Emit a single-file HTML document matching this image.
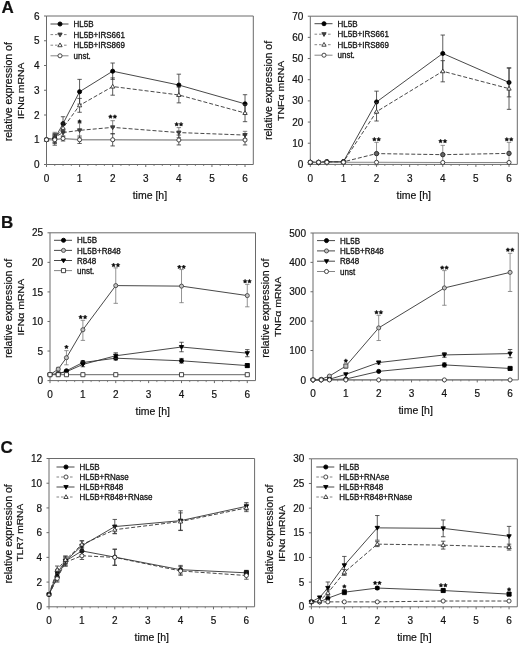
<!DOCTYPE html>
<html><head><meta charset="utf-8"><style>
html,body{margin:0;padding:0;background:#fff;}
body{width:520px;height:649px;overflow:hidden;}
svg{display:block;filter:blur(0.3px);font-family:"Liberation Sans", sans-serif;}
</style></head><body>
<svg width="520" height="649" viewBox="0 0 520 649">
<rect width="520" height="649" fill="#fff"/>
<g fill="#111" stroke-linejoin="round">
<style>text{stroke:#111;stroke-width:0.2px;} text.lg{stroke-width:0.3px;}</style>
<text x="1.4" y="12.6" font-size="17" font-weight="bold">A</text>
<rect x="46.5" y="16" width="206.8" height="148.5" fill="none" stroke="#6a6a6a" stroke-width="1"/>
<line x1="44" y1="164.5" x2="46.5" y2="164.5" stroke="#6a6a6a" stroke-width="1"/>
<text x="39.5" y="168.1" font-size="10" text-anchor="end">0</text>
<line x1="44" y1="139.75" x2="46.5" y2="139.75" stroke="#6a6a6a" stroke-width="1"/>
<text x="39.5" y="143.35" font-size="10" text-anchor="end">1</text>
<line x1="44" y1="115" x2="46.5" y2="115" stroke="#6a6a6a" stroke-width="1"/>
<text x="39.5" y="118.6" font-size="10" text-anchor="end">2</text>
<line x1="44" y1="90.25" x2="46.5" y2="90.25" stroke="#6a6a6a" stroke-width="1"/>
<text x="39.5" y="93.85" font-size="10" text-anchor="end">3</text>
<line x1="44" y1="65.5" x2="46.5" y2="65.5" stroke="#6a6a6a" stroke-width="1"/>
<text x="39.5" y="69.1" font-size="10" text-anchor="end">4</text>
<line x1="44" y1="40.75" x2="46.5" y2="40.75" stroke="#6a6a6a" stroke-width="1"/>
<text x="39.5" y="44.35" font-size="10" text-anchor="end">5</text>
<line x1="44" y1="16" x2="46.5" y2="16" stroke="#6a6a6a" stroke-width="1"/>
<text x="39.5" y="19.6" font-size="10" text-anchor="end">6</text>
<line x1="46.5" y1="164.5" x2="46.5" y2="167" stroke="#6a6a6a" stroke-width="1"/>
<text x="46.5" y="181.9" font-size="10" text-anchor="middle">0</text>
<line x1="54.77" y1="164.5" x2="54.77" y2="166" stroke="#6a6a6a" stroke-width="0.8"/>
<line x1="63.04" y1="164.5" x2="63.04" y2="166" stroke="#6a6a6a" stroke-width="0.8"/>
<line x1="71.32" y1="164.5" x2="71.32" y2="166" stroke="#6a6a6a" stroke-width="0.8"/>
<line x1="79.59" y1="164.5" x2="79.59" y2="167" stroke="#6a6a6a" stroke-width="1"/>
<text x="79.59" y="181.9" font-size="10" text-anchor="middle">1</text>
<line x1="87.86" y1="164.5" x2="87.86" y2="166" stroke="#6a6a6a" stroke-width="0.8"/>
<line x1="96.13" y1="164.5" x2="96.13" y2="166" stroke="#6a6a6a" stroke-width="0.8"/>
<line x1="104.4" y1="164.5" x2="104.4" y2="166" stroke="#6a6a6a" stroke-width="0.8"/>
<line x1="112.68" y1="164.5" x2="112.68" y2="167" stroke="#6a6a6a" stroke-width="1"/>
<text x="112.68" y="181.9" font-size="10" text-anchor="middle">2</text>
<line x1="120.95" y1="164.5" x2="120.95" y2="166" stroke="#6a6a6a" stroke-width="0.8"/>
<line x1="129.22" y1="164.5" x2="129.22" y2="166" stroke="#6a6a6a" stroke-width="0.8"/>
<line x1="137.49" y1="164.5" x2="137.49" y2="166" stroke="#6a6a6a" stroke-width="0.8"/>
<line x1="145.76" y1="164.5" x2="145.76" y2="167" stroke="#6a6a6a" stroke-width="1"/>
<text x="145.76" y="181.9" font-size="10" text-anchor="middle">3</text>
<line x1="154.04" y1="164.5" x2="154.04" y2="166" stroke="#6a6a6a" stroke-width="0.8"/>
<line x1="162.31" y1="164.5" x2="162.31" y2="166" stroke="#6a6a6a" stroke-width="0.8"/>
<line x1="170.58" y1="164.5" x2="170.58" y2="166" stroke="#6a6a6a" stroke-width="0.8"/>
<line x1="178.85" y1="164.5" x2="178.85" y2="167" stroke="#6a6a6a" stroke-width="1"/>
<text x="178.85" y="181.9" font-size="10" text-anchor="middle">4</text>
<line x1="187.12" y1="164.5" x2="187.12" y2="166" stroke="#6a6a6a" stroke-width="0.8"/>
<line x1="195.4" y1="164.5" x2="195.4" y2="166" stroke="#6a6a6a" stroke-width="0.8"/>
<line x1="203.67" y1="164.5" x2="203.67" y2="166" stroke="#6a6a6a" stroke-width="0.8"/>
<line x1="211.94" y1="164.5" x2="211.94" y2="167" stroke="#6a6a6a" stroke-width="1"/>
<text x="211.94" y="181.9" font-size="10" text-anchor="middle">5</text>
<line x1="220.21" y1="164.5" x2="220.21" y2="166" stroke="#6a6a6a" stroke-width="0.8"/>
<line x1="228.48" y1="164.5" x2="228.48" y2="166" stroke="#6a6a6a" stroke-width="0.8"/>
<line x1="236.76" y1="164.5" x2="236.76" y2="166" stroke="#6a6a6a" stroke-width="0.8"/>
<line x1="245.03" y1="164.5" x2="245.03" y2="167" stroke="#6a6a6a" stroke-width="1"/>
<text x="245.03" y="181.9" font-size="10" text-anchor="middle">6</text>
<text x="149.9" y="199" font-size="10.5" text-anchor="middle">time [h]</text>
<text transform="translate(11.5,91.75) rotate(-90)" font-size="10.5" text-anchor="middle">relative expression of</text>
<text transform="translate(23.8,90.75) rotate(-90) scale(1,0.94)" font-size="10.5" text-anchor="middle">IFN&#945; mRNA</text>
<path d="M46.5,139.75L54.77,138.51L63.04,123.66L79.59,91.73L112.68,71.19L178.85,85.05L245.03,103.86" fill="none" stroke="#333" stroke-width="0.9"/>
<path d="M46.5,139.75L54.77,137.28L63.04,132.57L79.59,130.34L112.68,127.38L178.85,132.57L245.03,135.05" fill="none" stroke="#333" stroke-width="0.9" stroke-dasharray="4,2"/>
<path d="M46.5,139.75L54.77,138.51L63.04,127.87L79.59,105.35L112.68,86.54L178.85,94.95L245.03,113.02" fill="none" stroke="#333" stroke-width="0.9" stroke-dasharray="4,2"/>
<path d="M46.5,139.75L54.77,139.75L63.04,138.51L79.59,139.75L112.68,139.75L178.85,140L245.03,140" fill="none" stroke="#9a9a9a" stroke-width="1.5"/>
<line x1="54.77" y1="133.56" x2="54.77" y2="143.46" stroke="#333" stroke-width="0.8"/>
<line x1="52.57" y1="133.56" x2="56.97" y2="133.56" stroke="#333" stroke-width="0.8"/>
<line x1="52.57" y1="143.46" x2="56.97" y2="143.46" stroke="#333" stroke-width="0.8"/>
<line x1="63.04" y1="116.73" x2="63.04" y2="130.59" stroke="#333" stroke-width="0.8"/>
<line x1="60.84" y1="116.73" x2="65.24" y2="116.73" stroke="#333" stroke-width="0.8"/>
<line x1="60.84" y1="130.59" x2="65.24" y2="130.59" stroke="#333" stroke-width="0.8"/>
<line x1="79.59" y1="79.36" x2="79.59" y2="104.11" stroke="#333" stroke-width="0.8"/>
<line x1="77.39" y1="79.36" x2="81.79" y2="79.36" stroke="#333" stroke-width="0.8"/>
<line x1="77.39" y1="104.11" x2="81.79" y2="104.11" stroke="#333" stroke-width="0.8"/>
<line x1="112.68" y1="63.03" x2="112.68" y2="79.36" stroke="#333" stroke-width="0.8"/>
<line x1="110.48" y1="63.03" x2="114.88" y2="63.03" stroke="#333" stroke-width="0.8"/>
<line x1="110.48" y1="79.36" x2="114.88" y2="79.36" stroke="#333" stroke-width="0.8"/>
<line x1="178.85" y1="74.16" x2="178.85" y2="95.94" stroke="#333" stroke-width="0.8"/>
<line x1="176.65" y1="74.16" x2="181.05" y2="74.16" stroke="#333" stroke-width="0.8"/>
<line x1="176.65" y1="95.94" x2="181.05" y2="95.94" stroke="#333" stroke-width="0.8"/>
<line x1="245.03" y1="94.7" x2="245.03" y2="113.02" stroke="#333" stroke-width="0.8"/>
<line x1="242.83" y1="94.7" x2="247.23" y2="94.7" stroke="#333" stroke-width="0.8"/>
<line x1="242.83" y1="113.02" x2="247.23" y2="113.02" stroke="#333" stroke-width="0.8"/>
<circle cx="46.5" cy="139.75" r="2.05" fill="#000" stroke="#000" stroke-width="0.9"/>
<circle cx="54.77" cy="138.51" r="2.05" fill="#000" stroke="#000" stroke-width="0.9"/>
<circle cx="63.04" cy="123.66" r="2.05" fill="#000" stroke="#000" stroke-width="0.9"/>
<circle cx="79.59" cy="91.73" r="2.05" fill="#000" stroke="#000" stroke-width="0.9"/>
<circle cx="112.68" cy="71.19" r="2.05" fill="#000" stroke="#000" stroke-width="0.9"/>
<circle cx="178.85" cy="85.05" r="2.05" fill="#000" stroke="#000" stroke-width="0.9"/>
<circle cx="245.03" cy="103.86" r="2.05" fill="#000" stroke="#000" stroke-width="0.9"/>
<line x1="54.77" y1="132.32" x2="54.77" y2="142.22" stroke="#666" stroke-width="0.8"/>
<line x1="52.57" y1="132.32" x2="56.97" y2="132.32" stroke="#666" stroke-width="0.8"/>
<line x1="52.57" y1="142.22" x2="56.97" y2="142.22" stroke="#666" stroke-width="0.8"/>
<line x1="63.04" y1="128.86" x2="63.04" y2="136.28" stroke="#666" stroke-width="0.8"/>
<line x1="60.84" y1="128.86" x2="65.24" y2="128.86" stroke="#666" stroke-width="0.8"/>
<line x1="60.84" y1="136.28" x2="65.24" y2="136.28" stroke="#666" stroke-width="0.8"/>
<line x1="79.59" y1="122.92" x2="79.59" y2="137.77" stroke="#666" stroke-width="0.8"/>
<line x1="77.39" y1="122.92" x2="81.79" y2="122.92" stroke="#666" stroke-width="0.8"/>
<line x1="77.39" y1="137.77" x2="81.79" y2="137.77" stroke="#666" stroke-width="0.8"/>
<line x1="112.68" y1="120.69" x2="112.68" y2="134.06" stroke="#666" stroke-width="0.8"/>
<line x1="110.48" y1="120.69" x2="114.88" y2="120.69" stroke="#666" stroke-width="0.8"/>
<line x1="110.48" y1="134.06" x2="114.88" y2="134.06" stroke="#666" stroke-width="0.8"/>
<line x1="178.85" y1="127.62" x2="178.85" y2="137.52" stroke="#666" stroke-width="0.8"/>
<line x1="176.65" y1="127.62" x2="181.05" y2="127.62" stroke="#666" stroke-width="0.8"/>
<line x1="176.65" y1="137.52" x2="181.05" y2="137.52" stroke="#666" stroke-width="0.8"/>
<line x1="245.03" y1="131.34" x2="245.03" y2="138.76" stroke="#666" stroke-width="0.8"/>
<line x1="242.83" y1="131.34" x2="247.23" y2="131.34" stroke="#666" stroke-width="0.8"/>
<line x1="242.83" y1="138.76" x2="247.23" y2="138.76" stroke="#666" stroke-width="0.8"/>
<path d="M44.35,138.24L48.65,138.24L46.5,142.01Z" fill="#444" stroke="#333" stroke-width="0.9"/>
<path d="M52.62,135.77L56.92,135.77L54.77,139.54Z" fill="#444" stroke="#333" stroke-width="0.9"/>
<path d="M60.89,131.07L65.2,131.07L63.04,134.83Z" fill="#444" stroke="#333" stroke-width="0.9"/>
<path d="M77.44,128.84L81.74,128.84L79.59,132.61Z" fill="#444" stroke="#333" stroke-width="0.9"/>
<path d="M110.52,125.87L114.83,125.87L112.68,129.64Z" fill="#444" stroke="#333" stroke-width="0.9"/>
<path d="M176.7,131.07L181,131.07L178.85,134.83Z" fill="#444" stroke="#333" stroke-width="0.9"/>
<path d="M242.88,133.54L247.18,133.54L245.03,137.31Z" fill="#444" stroke="#333" stroke-width="0.9"/>
<line x1="54.77" y1="134.8" x2="54.77" y2="142.22" stroke="#333" stroke-width="0.8"/>
<line x1="52.57" y1="134.8" x2="56.97" y2="134.8" stroke="#333" stroke-width="0.8"/>
<line x1="52.57" y1="142.22" x2="56.97" y2="142.22" stroke="#333" stroke-width="0.8"/>
<line x1="63.04" y1="122.92" x2="63.04" y2="132.82" stroke="#333" stroke-width="0.8"/>
<line x1="60.84" y1="122.92" x2="65.24" y2="122.92" stroke="#333" stroke-width="0.8"/>
<line x1="60.84" y1="132.82" x2="65.24" y2="132.82" stroke="#333" stroke-width="0.8"/>
<line x1="79.59" y1="98.42" x2="79.59" y2="112.28" stroke="#333" stroke-width="0.8"/>
<line x1="77.39" y1="98.42" x2="81.79" y2="98.42" stroke="#333" stroke-width="0.8"/>
<line x1="77.39" y1="112.28" x2="81.79" y2="112.28" stroke="#333" stroke-width="0.8"/>
<line x1="112.68" y1="77.88" x2="112.68" y2="95.2" stroke="#333" stroke-width="0.8"/>
<line x1="110.48" y1="77.88" x2="114.88" y2="77.88" stroke="#333" stroke-width="0.8"/>
<line x1="110.48" y1="95.2" x2="114.88" y2="95.2" stroke="#333" stroke-width="0.8"/>
<line x1="178.85" y1="87.03" x2="178.85" y2="102.87" stroke="#333" stroke-width="0.8"/>
<line x1="176.65" y1="87.03" x2="181.05" y2="87.03" stroke="#333" stroke-width="0.8"/>
<line x1="176.65" y1="102.87" x2="181.05" y2="102.87" stroke="#333" stroke-width="0.8"/>
<line x1="245.03" y1="104.36" x2="245.03" y2="121.68" stroke="#333" stroke-width="0.8"/>
<line x1="242.83" y1="104.36" x2="247.23" y2="104.36" stroke="#333" stroke-width="0.8"/>
<line x1="242.83" y1="121.68" x2="247.23" y2="121.68" stroke="#333" stroke-width="0.8"/>
<path d="M44.35,141.26L48.65,141.26L46.5,137.49Z" fill="#fff" stroke="#333" stroke-width="0.9"/>
<path d="M52.62,140.02L56.92,140.02L54.77,136.25Z" fill="#fff" stroke="#333" stroke-width="0.9"/>
<path d="M60.89,129.38L65.2,129.38L63.04,125.61Z" fill="#fff" stroke="#333" stroke-width="0.9"/>
<path d="M77.44,106.85L81.74,106.85L79.59,103.09Z" fill="#fff" stroke="#333" stroke-width="0.9"/>
<path d="M110.52,88.04L114.83,88.04L112.68,84.28Z" fill="#fff" stroke="#333" stroke-width="0.9"/>
<path d="M176.7,96.46L181,96.46L178.85,92.69Z" fill="#fff" stroke="#333" stroke-width="0.9"/>
<path d="M242.88,114.53L247.18,114.53L245.03,110.76Z" fill="#fff" stroke="#333" stroke-width="0.9"/>
<line x1="54.77" y1="134.31" x2="54.77" y2="145.19" stroke="#333" stroke-width="0.8"/>
<line x1="52.57" y1="134.31" x2="56.97" y2="134.31" stroke="#333" stroke-width="0.8"/>
<line x1="52.57" y1="145.19" x2="56.97" y2="145.19" stroke="#333" stroke-width="0.8"/>
<line x1="63.04" y1="136.04" x2="63.04" y2="140.99" stroke="#333" stroke-width="0.8"/>
<line x1="60.84" y1="136.04" x2="65.24" y2="136.04" stroke="#333" stroke-width="0.8"/>
<line x1="60.84" y1="140.99" x2="65.24" y2="140.99" stroke="#333" stroke-width="0.8"/>
<line x1="79.59" y1="136.04" x2="79.59" y2="143.46" stroke="#333" stroke-width="0.8"/>
<line x1="77.39" y1="136.04" x2="81.79" y2="136.04" stroke="#333" stroke-width="0.8"/>
<line x1="77.39" y1="143.46" x2="81.79" y2="143.46" stroke="#333" stroke-width="0.8"/>
<line x1="112.68" y1="133.56" x2="112.68" y2="145.94" stroke="#333" stroke-width="0.8"/>
<line x1="110.48" y1="133.56" x2="114.88" y2="133.56" stroke="#333" stroke-width="0.8"/>
<line x1="110.48" y1="145.94" x2="114.88" y2="145.94" stroke="#333" stroke-width="0.8"/>
<line x1="178.85" y1="135.05" x2="178.85" y2="144.95" stroke="#333" stroke-width="0.8"/>
<line x1="176.65" y1="135.05" x2="181.05" y2="135.05" stroke="#333" stroke-width="0.8"/>
<line x1="176.65" y1="144.95" x2="181.05" y2="144.95" stroke="#333" stroke-width="0.8"/>
<line x1="245.03" y1="135.05" x2="245.03" y2="144.95" stroke="#333" stroke-width="0.8"/>
<line x1="242.83" y1="135.05" x2="247.23" y2="135.05" stroke="#333" stroke-width="0.8"/>
<line x1="242.83" y1="144.95" x2="247.23" y2="144.95" stroke="#333" stroke-width="0.8"/>
<circle cx="46.5" cy="139.75" r="2.05" fill="#fff" stroke="#333" stroke-width="0.9"/>
<circle cx="54.77" cy="139.75" r="2.05" fill="#fff" stroke="#333" stroke-width="0.9"/>
<circle cx="63.04" cy="138.51" r="2.05" fill="#fff" stroke="#333" stroke-width="0.9"/>
<circle cx="79.59" cy="139.75" r="2.05" fill="#fff" stroke="#333" stroke-width="0.9"/>
<circle cx="112.68" cy="139.75" r="2.05" fill="#fff" stroke="#333" stroke-width="0.9"/>
<circle cx="178.85" cy="140" r="2.05" fill="#fff" stroke="#333" stroke-width="0.9"/>
<circle cx="245.03" cy="140" r="2.05" fill="#fff" stroke="#333" stroke-width="0.9"/>
<path d="M79.59,119.5L80.23,120.61L81.49,120.88L80.63,121.84L80.76,123.12L79.59,122.6L78.41,123.12L78.54,121.84L77.69,120.88L78.94,120.61Z" fill="#111" stroke="#111" stroke-width="0.5"/>
<path d="M110.48,114.7L111.12,115.81L112.38,116.08L111.52,117.04L111.65,118.32L110.48,117.8L109.3,118.32L109.43,117.04L108.57,116.08L109.83,115.81Z" fill="#111" stroke="#111" stroke-width="0.5"/>
<path d="M114.88,114.7L115.52,115.81L116.78,116.08L115.92,117.04L116.05,118.32L114.88,117.8L113.7,118.32L113.83,117.04L112.97,116.08L114.23,115.81Z" fill="#111" stroke="#111" stroke-width="0.5"/>
<path d="M176.65,122.3L177.3,123.41L178.55,123.68L177.7,124.64L177.83,125.92L176.65,125.4L175.48,125.92L175.61,124.64L174.75,123.68L176.01,123.41Z" fill="#111" stroke="#111" stroke-width="0.5"/>
<path d="M181.05,122.3L181.7,123.41L182.95,123.68L182.1,124.64L182.23,125.92L181.05,125.4L179.88,125.92L180.01,124.64L179.15,123.68L180.41,123.41Z" fill="#111" stroke="#111" stroke-width="0.5"/>
<line x1="50.5" y1="24" x2="68.5" y2="24" stroke="#333" stroke-width="0.9"/>
<circle cx="60" cy="24" r="2.05" fill="#000" stroke="#000" stroke-width="0.9"/>
<text x="73.5" y="27.1" class="lg" font-size="8.8" textLength="20.01" lengthAdjust="spacingAndGlyphs">HL5B</text>
<line x1="50.5" y1="34.6" x2="68.5" y2="34.6" stroke="#777" stroke-width="0.9" stroke-dasharray="2.6,1.9"/>
<path d="M57.85,33.09L62.15,33.09L60,36.86Z" fill="#444" stroke="#333" stroke-width="0.9"/>
<text x="73.5" y="37.7" class="lg" font-size="8.8" textLength="51.37" lengthAdjust="spacingAndGlyphs">HL5B+IRS661</text>
<line x1="50.5" y1="45.2" x2="68.5" y2="45.2" stroke="#777" stroke-width="0.9" stroke-dasharray="2.6,1.9"/>
<path d="M57.85,46.71L62.15,46.71L60,42.94Z" fill="#fff" stroke="#333" stroke-width="0.9"/>
<text x="73.5" y="48.3" class="lg" font-size="8.8" textLength="51.37" lengthAdjust="spacingAndGlyphs">HL5B+IRS869</text>
<line x1="50.5" y1="55.8" x2="68.5" y2="55.8" stroke="#777" stroke-width="0.9"/>
<circle cx="60" cy="55.8" r="2.05" fill="#fff" stroke="#333" stroke-width="0.9"/>
<text x="73.5" y="58.9" class="lg" font-size="8.8" textLength="17.34" lengthAdjust="spacingAndGlyphs">unst.</text>
<rect x="310.3" y="16.2" width="207" height="148.2" fill="none" stroke="#6a6a6a" stroke-width="1"/>
<line x1="307.8" y1="164.4" x2="310.3" y2="164.4" stroke="#6a6a6a" stroke-width="1"/>
<text x="303.3" y="168" font-size="10" text-anchor="end">0</text>
<line x1="307.8" y1="143.23" x2="310.3" y2="143.23" stroke="#6a6a6a" stroke-width="1"/>
<text x="303.3" y="146.83" font-size="10" text-anchor="end">10</text>
<line x1="307.8" y1="122.06" x2="310.3" y2="122.06" stroke="#6a6a6a" stroke-width="1"/>
<text x="303.3" y="125.66" font-size="10" text-anchor="end">20</text>
<line x1="307.8" y1="100.89" x2="310.3" y2="100.89" stroke="#6a6a6a" stroke-width="1"/>
<text x="303.3" y="104.49" font-size="10" text-anchor="end">30</text>
<line x1="307.8" y1="79.71" x2="310.3" y2="79.71" stroke="#6a6a6a" stroke-width="1"/>
<text x="303.3" y="83.31" font-size="10" text-anchor="end">40</text>
<line x1="307.8" y1="58.54" x2="310.3" y2="58.54" stroke="#6a6a6a" stroke-width="1"/>
<text x="303.3" y="62.14" font-size="10" text-anchor="end">50</text>
<line x1="307.8" y1="37.37" x2="310.3" y2="37.37" stroke="#6a6a6a" stroke-width="1"/>
<text x="303.3" y="40.97" font-size="10" text-anchor="end">60</text>
<line x1="307.8" y1="16.2" x2="310.3" y2="16.2" stroke="#6a6a6a" stroke-width="1"/>
<text x="303.3" y="19.8" font-size="10" text-anchor="end">70</text>
<line x1="310.3" y1="164.4" x2="310.3" y2="166.9" stroke="#6a6a6a" stroke-width="1"/>
<text x="310.3" y="181.8" font-size="10" text-anchor="middle">0</text>
<line x1="318.58" y1="164.4" x2="318.58" y2="165.9" stroke="#6a6a6a" stroke-width="0.8"/>
<line x1="326.86" y1="164.4" x2="326.86" y2="165.9" stroke="#6a6a6a" stroke-width="0.8"/>
<line x1="335.14" y1="164.4" x2="335.14" y2="165.9" stroke="#6a6a6a" stroke-width="0.8"/>
<line x1="343.42" y1="164.4" x2="343.42" y2="166.9" stroke="#6a6a6a" stroke-width="1"/>
<text x="343.42" y="181.8" font-size="10" text-anchor="middle">1</text>
<line x1="351.7" y1="164.4" x2="351.7" y2="165.9" stroke="#6a6a6a" stroke-width="0.8"/>
<line x1="359.98" y1="164.4" x2="359.98" y2="165.9" stroke="#6a6a6a" stroke-width="0.8"/>
<line x1="368.26" y1="164.4" x2="368.26" y2="165.9" stroke="#6a6a6a" stroke-width="0.8"/>
<line x1="376.54" y1="164.4" x2="376.54" y2="166.9" stroke="#6a6a6a" stroke-width="1"/>
<text x="376.54" y="181.8" font-size="10" text-anchor="middle">2</text>
<line x1="384.82" y1="164.4" x2="384.82" y2="165.9" stroke="#6a6a6a" stroke-width="0.8"/>
<line x1="393.1" y1="164.4" x2="393.1" y2="165.9" stroke="#6a6a6a" stroke-width="0.8"/>
<line x1="401.38" y1="164.4" x2="401.38" y2="165.9" stroke="#6a6a6a" stroke-width="0.8"/>
<line x1="409.66" y1="164.4" x2="409.66" y2="166.9" stroke="#6a6a6a" stroke-width="1"/>
<text x="409.66" y="181.8" font-size="10" text-anchor="middle">3</text>
<line x1="417.94" y1="164.4" x2="417.94" y2="165.9" stroke="#6a6a6a" stroke-width="0.8"/>
<line x1="426.22" y1="164.4" x2="426.22" y2="165.9" stroke="#6a6a6a" stroke-width="0.8"/>
<line x1="434.5" y1="164.4" x2="434.5" y2="165.9" stroke="#6a6a6a" stroke-width="0.8"/>
<line x1="442.78" y1="164.4" x2="442.78" y2="166.9" stroke="#6a6a6a" stroke-width="1"/>
<text x="442.78" y="181.8" font-size="10" text-anchor="middle">4</text>
<line x1="451.06" y1="164.4" x2="451.06" y2="165.9" stroke="#6a6a6a" stroke-width="0.8"/>
<line x1="459.34" y1="164.4" x2="459.34" y2="165.9" stroke="#6a6a6a" stroke-width="0.8"/>
<line x1="467.62" y1="164.4" x2="467.62" y2="165.9" stroke="#6a6a6a" stroke-width="0.8"/>
<line x1="475.9" y1="164.4" x2="475.9" y2="166.9" stroke="#6a6a6a" stroke-width="1"/>
<text x="475.9" y="181.8" font-size="10" text-anchor="middle">5</text>
<line x1="484.18" y1="164.4" x2="484.18" y2="165.9" stroke="#6a6a6a" stroke-width="0.8"/>
<line x1="492.46" y1="164.4" x2="492.46" y2="165.9" stroke="#6a6a6a" stroke-width="0.8"/>
<line x1="500.74" y1="164.4" x2="500.74" y2="165.9" stroke="#6a6a6a" stroke-width="0.8"/>
<line x1="509.02" y1="164.4" x2="509.02" y2="166.9" stroke="#6a6a6a" stroke-width="1"/>
<text x="509.02" y="181.8" font-size="10" text-anchor="middle">6</text>
<text x="413.8" y="198.9" font-size="10.5" text-anchor="middle">time [h]</text>
<text transform="translate(271.6,90.5) rotate(-90)" font-size="10.5" text-anchor="middle">relative expression of</text>
<text transform="translate(284.2,90.8) rotate(-90) scale(1,0.94)" font-size="10.5" text-anchor="middle">TNF&#945; mRNA</text>
<path d="M310.3,162.28L318.58,162.28L326.86,161.65L343.42,161.65L376.54,101.94L442.78,53.46L509.02,82.47" fill="none" stroke="#333" stroke-width="0.9"/>
<path d="M310.3,162.28L318.58,162.28L326.86,161.86L343.42,161.86L376.54,153.6L442.78,154.66L509.02,153.39" fill="none" stroke="#333" stroke-width="0.9" stroke-dasharray="4,2"/>
<path d="M310.3,162.28L318.58,162.28L326.86,161.86L343.42,161.86L376.54,111.68L442.78,71.25L509.02,88.61" fill="none" stroke="#333" stroke-width="0.9" stroke-dasharray="4,2"/>
<path d="M310.3,162.28L318.58,162.28L326.86,162.28L343.42,162.28L376.54,162.28L442.78,162.49L509.02,162.49" fill="none" stroke="#777" stroke-width="0.9"/>
<line x1="376.54" y1="91.15" x2="376.54" y2="112.74" stroke="#333" stroke-width="0.8"/>
<line x1="374.34" y1="91.15" x2="378.74" y2="91.15" stroke="#333" stroke-width="0.8"/>
<line x1="374.34" y1="112.74" x2="378.74" y2="112.74" stroke="#333" stroke-width="0.8"/>
<line x1="442.78" y1="35.04" x2="442.78" y2="71.88" stroke="#333" stroke-width="0.8"/>
<line x1="440.58" y1="35.04" x2="444.98" y2="35.04" stroke="#333" stroke-width="0.8"/>
<line x1="440.58" y1="71.88" x2="444.98" y2="71.88" stroke="#333" stroke-width="0.8"/>
<line x1="509.02" y1="68.07" x2="509.02" y2="96.86" stroke="#333" stroke-width="0.8"/>
<line x1="506.82" y1="68.07" x2="511.22" y2="68.07" stroke="#333" stroke-width="0.8"/>
<line x1="506.82" y1="96.86" x2="511.22" y2="96.86" stroke="#333" stroke-width="0.8"/>
<circle cx="310.3" cy="162.28" r="2.05" fill="#000" stroke="#000" stroke-width="0.9"/>
<circle cx="318.58" cy="162.28" r="2.05" fill="#000" stroke="#000" stroke-width="0.9"/>
<circle cx="326.86" cy="161.65" r="2.05" fill="#000" stroke="#000" stroke-width="0.9"/>
<circle cx="343.42" cy="161.65" r="2.05" fill="#000" stroke="#000" stroke-width="0.9"/>
<circle cx="376.54" cy="101.94" r="2.05" fill="#000" stroke="#000" stroke-width="0.9"/>
<circle cx="442.78" cy="53.46" r="2.05" fill="#000" stroke="#000" stroke-width="0.9"/>
<circle cx="509.02" cy="82.47" r="2.05" fill="#000" stroke="#000" stroke-width="0.9"/>
<line x1="376.54" y1="142.38" x2="376.54" y2="164.82" stroke="#777" stroke-width="0.8"/>
<line x1="374.34" y1="142.38" x2="378.74" y2="142.38" stroke="#777" stroke-width="0.8"/>
<line x1="374.34" y1="164.82" x2="378.74" y2="164.82" stroke="#777" stroke-width="0.8"/>
<line x1="442.78" y1="145.35" x2="442.78" y2="163.98" stroke="#777" stroke-width="0.8"/>
<line x1="440.58" y1="145.35" x2="444.98" y2="145.35" stroke="#777" stroke-width="0.8"/>
<line x1="440.58" y1="163.98" x2="444.98" y2="163.98" stroke="#777" stroke-width="0.8"/>
<line x1="509.02" y1="142.38" x2="509.02" y2="164.4" stroke="#777" stroke-width="0.8"/>
<line x1="506.82" y1="142.38" x2="511.22" y2="142.38" stroke="#777" stroke-width="0.8"/>
<line x1="506.82" y1="164.4" x2="511.22" y2="164.4" stroke="#777" stroke-width="0.8"/>
<circle cx="310.3" cy="162.28" r="2.2" fill="#666" stroke="#222" stroke-width="0.9"/>
<circle cx="318.58" cy="162.28" r="2.2" fill="#666" stroke="#222" stroke-width="0.9"/>
<circle cx="326.86" cy="161.86" r="2.2" fill="#666" stroke="#222" stroke-width="0.9"/>
<circle cx="343.42" cy="161.86" r="2.2" fill="#666" stroke="#222" stroke-width="0.9"/>
<circle cx="376.54" cy="153.6" r="2.2" fill="#666" stroke="#222" stroke-width="0.9"/>
<circle cx="442.78" cy="154.66" r="2.2" fill="#666" stroke="#222" stroke-width="0.9"/>
<circle cx="509.02" cy="153.39" r="2.2" fill="#666" stroke="#222" stroke-width="0.9"/>
<line x1="376.54" y1="102.37" x2="376.54" y2="121" stroke="#333" stroke-width="0.8"/>
<line x1="374.34" y1="102.37" x2="378.74" y2="102.37" stroke="#333" stroke-width="0.8"/>
<line x1="374.34" y1="121" x2="378.74" y2="121" stroke="#333" stroke-width="0.8"/>
<line x1="442.78" y1="60.66" x2="442.78" y2="81.83" stroke="#333" stroke-width="0.8"/>
<line x1="440.58" y1="60.66" x2="444.98" y2="60.66" stroke="#333" stroke-width="0.8"/>
<line x1="440.58" y1="81.83" x2="444.98" y2="81.83" stroke="#333" stroke-width="0.8"/>
<line x1="509.02" y1="67.86" x2="509.02" y2="109.35" stroke="#333" stroke-width="0.8"/>
<line x1="506.82" y1="67.86" x2="511.22" y2="67.86" stroke="#333" stroke-width="0.8"/>
<line x1="506.82" y1="109.35" x2="511.22" y2="109.35" stroke="#333" stroke-width="0.8"/>
<path d="M308.15,163.79L312.45,163.79L310.3,160.02Z" fill="#fff" stroke="#333" stroke-width="0.9"/>
<path d="M316.43,163.79L320.73,163.79L318.58,160.02Z" fill="#fff" stroke="#333" stroke-width="0.9"/>
<path d="M324.71,163.37L329.01,163.37L326.86,159.6Z" fill="#fff" stroke="#333" stroke-width="0.9"/>
<path d="M341.27,163.37L345.57,163.37L343.42,159.6Z" fill="#fff" stroke="#333" stroke-width="0.9"/>
<path d="M374.39,113.19L378.69,113.19L376.54,109.42Z" fill="#fff" stroke="#333" stroke-width="0.9"/>
<path d="M440.63,72.75L444.93,72.75L442.78,68.99Z" fill="#fff" stroke="#333" stroke-width="0.9"/>
<path d="M506.87,90.11L511.17,90.11L509.02,86.35Z" fill="#fff" stroke="#333" stroke-width="0.9"/>
<circle cx="310.3" cy="162.28" r="2.05" fill="#fff" stroke="#333" stroke-width="0.9"/>
<circle cx="318.58" cy="162.28" r="2.05" fill="#fff" stroke="#333" stroke-width="0.9"/>
<circle cx="326.86" cy="162.28" r="2.05" fill="#fff" stroke="#333" stroke-width="0.9"/>
<circle cx="343.42" cy="162.28" r="2.05" fill="#fff" stroke="#333" stroke-width="0.9"/>
<circle cx="376.54" cy="162.28" r="2.05" fill="#fff" stroke="#333" stroke-width="0.9"/>
<circle cx="442.78" cy="162.49" r="2.05" fill="#fff" stroke="#333" stroke-width="0.9"/>
<circle cx="509.02" cy="162.49" r="2.05" fill="#fff" stroke="#333" stroke-width="0.9"/>
<path d="M374.34,137.3L374.99,138.41L376.24,138.68L375.39,139.64L375.52,140.92L374.34,140.4L373.16,140.92L373.29,139.64L372.44,138.68L373.69,138.41Z" fill="#111" stroke="#111" stroke-width="0.5"/>
<path d="M378.74,137.3L379.39,138.41L380.64,138.68L379.79,139.64L379.92,140.92L378.74,140.4L377.56,140.92L377.69,139.64L376.84,138.68L378.09,138.41Z" fill="#111" stroke="#111" stroke-width="0.5"/>
<path d="M440.58,139.2L441.23,140.31L442.48,140.58L441.63,141.54L441.76,142.82L440.58,142.3L439.4,142.82L439.53,141.54L438.68,140.58L439.93,140.31Z" fill="#111" stroke="#111" stroke-width="0.5"/>
<path d="M444.98,139.2L445.63,140.31L446.88,140.58L446.03,141.54L446.16,142.82L444.98,142.3L443.8,142.82L443.93,141.54L443.08,140.58L444.33,140.31Z" fill="#111" stroke="#111" stroke-width="0.5"/>
<path d="M506.82,137.4L507.47,138.51L508.72,138.78L507.87,139.74L508,141.02L506.82,140.5L505.64,141.02L505.77,139.74L504.92,138.78L506.17,138.51Z" fill="#111" stroke="#111" stroke-width="0.5"/>
<path d="M511.22,137.4L511.87,138.51L513.12,138.78L512.27,139.74L512.4,141.02L511.22,140.5L510.04,141.02L510.17,139.74L509.32,138.78L510.57,138.51Z" fill="#111" stroke="#111" stroke-width="0.5"/>
<line x1="314.5" y1="23.7" x2="332.5" y2="23.7" stroke="#333" stroke-width="0.9"/>
<circle cx="324" cy="23.7" r="2.05" fill="#000" stroke="#000" stroke-width="0.9"/>
<text x="337.5" y="26.8" class="lg" font-size="8.8" textLength="20.01" lengthAdjust="spacingAndGlyphs">HL5B</text>
<line x1="314.5" y1="34.2" x2="332.5" y2="34.2" stroke="#777" stroke-width="0.9" stroke-dasharray="2.6,1.9"/>
<path d="M321.85,32.69L326.15,32.69L324,36.46Z" fill="#444" stroke="#333" stroke-width="0.9"/>
<text x="337.5" y="37.3" class="lg" font-size="8.8" textLength="51.37" lengthAdjust="spacingAndGlyphs">HL5B+IRS661</text>
<line x1="314.5" y1="44.7" x2="332.5" y2="44.7" stroke="#777" stroke-width="0.9" stroke-dasharray="2.6,1.9"/>
<path d="M321.85,46.21L326.15,46.21L324,42.44Z" fill="#fff" stroke="#333" stroke-width="0.9"/>
<text x="337.5" y="47.8" class="lg" font-size="8.8" textLength="51.37" lengthAdjust="spacingAndGlyphs">HL5B+IRS869</text>
<line x1="314.5" y1="55.2" x2="332.5" y2="55.2" stroke="#777" stroke-width="0.9"/>
<circle cx="324" cy="55.2" r="2.05" fill="#fff" stroke="#333" stroke-width="0.9"/>
<text x="337.5" y="58.3" class="lg" font-size="8.8" textLength="17.34" lengthAdjust="spacingAndGlyphs">unst.</text>
<text x="0.9" y="227.6" font-size="17" font-weight="bold">B</text>
<rect x="50" y="232.8" width="205.5" height="147.8" fill="none" stroke="#6a6a6a" stroke-width="1"/>
<line x1="47.5" y1="380.6" x2="50" y2="380.6" stroke="#6a6a6a" stroke-width="1"/>
<text x="43" y="384.2" font-size="10" text-anchor="end">0</text>
<line x1="47.5" y1="351.04" x2="50" y2="351.04" stroke="#6a6a6a" stroke-width="1"/>
<text x="43" y="354.64" font-size="10" text-anchor="end">5</text>
<line x1="47.5" y1="321.48" x2="50" y2="321.48" stroke="#6a6a6a" stroke-width="1"/>
<text x="43" y="325.08" font-size="10" text-anchor="end">10</text>
<line x1="47.5" y1="291.92" x2="50" y2="291.92" stroke="#6a6a6a" stroke-width="1"/>
<text x="43" y="295.52" font-size="10" text-anchor="end">15</text>
<line x1="47.5" y1="262.36" x2="50" y2="262.36" stroke="#6a6a6a" stroke-width="1"/>
<text x="43" y="265.96" font-size="10" text-anchor="end">20</text>
<line x1="47.5" y1="232.8" x2="50" y2="232.8" stroke="#6a6a6a" stroke-width="1"/>
<text x="43" y="236.4" font-size="10" text-anchor="end">25</text>
<line x1="50" y1="380.6" x2="50" y2="383.1" stroke="#6a6a6a" stroke-width="1"/>
<text x="50" y="398" font-size="10" text-anchor="middle">0</text>
<line x1="58.22" y1="380.6" x2="58.22" y2="382.1" stroke="#6a6a6a" stroke-width="0.8"/>
<line x1="66.44" y1="380.6" x2="66.44" y2="382.1" stroke="#6a6a6a" stroke-width="0.8"/>
<line x1="74.66" y1="380.6" x2="74.66" y2="382.1" stroke="#6a6a6a" stroke-width="0.8"/>
<line x1="82.88" y1="380.6" x2="82.88" y2="383.1" stroke="#6a6a6a" stroke-width="1"/>
<text x="82.88" y="398" font-size="10" text-anchor="middle">1</text>
<line x1="91.1" y1="380.6" x2="91.1" y2="382.1" stroke="#6a6a6a" stroke-width="0.8"/>
<line x1="99.32" y1="380.6" x2="99.32" y2="382.1" stroke="#6a6a6a" stroke-width="0.8"/>
<line x1="107.54" y1="380.6" x2="107.54" y2="382.1" stroke="#6a6a6a" stroke-width="0.8"/>
<line x1="115.76" y1="380.6" x2="115.76" y2="383.1" stroke="#6a6a6a" stroke-width="1"/>
<text x="115.76" y="398" font-size="10" text-anchor="middle">2</text>
<line x1="123.98" y1="380.6" x2="123.98" y2="382.1" stroke="#6a6a6a" stroke-width="0.8"/>
<line x1="132.2" y1="380.6" x2="132.2" y2="382.1" stroke="#6a6a6a" stroke-width="0.8"/>
<line x1="140.42" y1="380.6" x2="140.42" y2="382.1" stroke="#6a6a6a" stroke-width="0.8"/>
<line x1="148.64" y1="380.6" x2="148.64" y2="383.1" stroke="#6a6a6a" stroke-width="1"/>
<text x="148.64" y="398" font-size="10" text-anchor="middle">3</text>
<line x1="156.86" y1="380.6" x2="156.86" y2="382.1" stroke="#6a6a6a" stroke-width="0.8"/>
<line x1="165.08" y1="380.6" x2="165.08" y2="382.1" stroke="#6a6a6a" stroke-width="0.8"/>
<line x1="173.3" y1="380.6" x2="173.3" y2="382.1" stroke="#6a6a6a" stroke-width="0.8"/>
<line x1="181.52" y1="380.6" x2="181.52" y2="383.1" stroke="#6a6a6a" stroke-width="1"/>
<text x="181.52" y="398" font-size="10" text-anchor="middle">4</text>
<line x1="189.74" y1="380.6" x2="189.74" y2="382.1" stroke="#6a6a6a" stroke-width="0.8"/>
<line x1="197.96" y1="380.6" x2="197.96" y2="382.1" stroke="#6a6a6a" stroke-width="0.8"/>
<line x1="206.18" y1="380.6" x2="206.18" y2="382.1" stroke="#6a6a6a" stroke-width="0.8"/>
<line x1="214.4" y1="380.6" x2="214.4" y2="383.1" stroke="#6a6a6a" stroke-width="1"/>
<text x="214.4" y="398" font-size="10" text-anchor="middle">5</text>
<line x1="222.62" y1="380.6" x2="222.62" y2="382.1" stroke="#6a6a6a" stroke-width="0.8"/>
<line x1="230.84" y1="380.6" x2="230.84" y2="382.1" stroke="#6a6a6a" stroke-width="0.8"/>
<line x1="239.06" y1="380.6" x2="239.06" y2="382.1" stroke="#6a6a6a" stroke-width="0.8"/>
<line x1="247.28" y1="380.6" x2="247.28" y2="383.1" stroke="#6a6a6a" stroke-width="1"/>
<text x="247.28" y="398" font-size="10" text-anchor="middle">6</text>
<text x="152.75" y="415.1" font-size="10.5" text-anchor="middle">time [h]</text>
<text transform="translate(11.9,308.5) rotate(-90)" font-size="10.5" text-anchor="middle">relative expression of</text>
<text transform="translate(23.5,307.2) rotate(-90) scale(1,0.94)" font-size="10.5" text-anchor="middle">IFN&#945; mRNA</text>
<path d="M50,374.69L58.22,374.1L66.44,370.79L82.88,362.51L115.76,358.19L181.52,360.79L247.28,365.58" fill="none" stroke="#333" stroke-width="0.9"/>
<path d="M50,374.69L58.22,369.13L66.44,357.72L82.88,329.76L115.76,285.59L181.52,286.13L247.28,295.59" fill="none" stroke="#333" stroke-width="0.9"/>
<path d="M50,374.69L58.22,373.51L66.44,371.73L82.88,364.4L115.76,355.77L181.52,347.02L247.28,353.17" fill="none" stroke="#333" stroke-width="0.9"/>
<path d="M50,374.69L58.22,374.69L66.44,374.69L82.88,374.69L115.76,374.69L181.52,374.69L247.28,374.69" fill="none" stroke="#666" stroke-width="1.0"/>
<line x1="82.88" y1="360.74" x2="82.88" y2="364.28" stroke="#333" stroke-width="0.8"/>
<line x1="80.68" y1="360.74" x2="85.08" y2="360.74" stroke="#333" stroke-width="0.8"/>
<line x1="80.68" y1="364.28" x2="85.08" y2="364.28" stroke="#333" stroke-width="0.8"/>
<line x1="115.76" y1="356.42" x2="115.76" y2="359.97" stroke="#333" stroke-width="0.8"/>
<line x1="113.56" y1="356.42" x2="117.96" y2="356.42" stroke="#333" stroke-width="0.8"/>
<line x1="113.56" y1="359.97" x2="117.96" y2="359.97" stroke="#333" stroke-width="0.8"/>
<line x1="181.52" y1="358.43" x2="181.52" y2="363.16" stroke="#333" stroke-width="0.8"/>
<line x1="179.32" y1="358.43" x2="183.72" y2="358.43" stroke="#333" stroke-width="0.8"/>
<line x1="179.32" y1="363.16" x2="183.72" y2="363.16" stroke="#333" stroke-width="0.8"/>
<line x1="247.28" y1="363.81" x2="247.28" y2="367.36" stroke="#333" stroke-width="0.8"/>
<line x1="245.08" y1="363.81" x2="249.48" y2="363.81" stroke="#333" stroke-width="0.8"/>
<line x1="245.08" y1="367.36" x2="249.48" y2="367.36" stroke="#333" stroke-width="0.8"/>
<circle cx="50" cy="374.69" r="2.05" fill="#000" stroke="#000" stroke-width="0.9"/>
<circle cx="58.22" cy="374.1" r="2.05" fill="#000" stroke="#000" stroke-width="0.9"/>
<circle cx="66.44" cy="370.79" r="2.05" fill="#000" stroke="#000" stroke-width="0.9"/>
<circle cx="82.88" cy="362.51" r="2.05" fill="#000" stroke="#000" stroke-width="0.9"/>
<circle cx="115.76" cy="358.19" r="2.05" fill="#000" stroke="#000" stroke-width="0.9"/>
<circle cx="181.52" cy="360.79" r="2.05" fill="#000" stroke="#000" stroke-width="0.9"/>
<rect x="245.23" y="363.53" width="4.1" height="4.1" fill="#000" stroke="#000" stroke-width="0.9"/>
<line x1="58.22" y1="367.36" x2="58.22" y2="370.9" stroke="#777" stroke-width="0.8"/>
<line x1="56.02" y1="367.36" x2="60.42" y2="367.36" stroke="#777" stroke-width="0.8"/>
<line x1="56.02" y1="370.9" x2="60.42" y2="370.9" stroke="#777" stroke-width="0.8"/>
<line x1="66.44" y1="350.63" x2="66.44" y2="364.81" stroke="#777" stroke-width="0.8"/>
<line x1="64.24" y1="350.63" x2="68.64" y2="350.63" stroke="#777" stroke-width="0.8"/>
<line x1="64.24" y1="364.81" x2="68.64" y2="364.81" stroke="#777" stroke-width="0.8"/>
<line x1="82.88" y1="320.3" x2="82.88" y2="340.4" stroke="#777" stroke-width="0.8"/>
<line x1="80.68" y1="320.3" x2="85.08" y2="320.3" stroke="#777" stroke-width="0.8"/>
<line x1="80.68" y1="340.4" x2="85.08" y2="340.4" stroke="#777" stroke-width="0.8"/>
<line x1="115.76" y1="267.86" x2="115.76" y2="303.33" stroke="#777" stroke-width="0.8"/>
<line x1="113.56" y1="267.86" x2="117.96" y2="267.86" stroke="#777" stroke-width="0.8"/>
<line x1="113.56" y1="303.33" x2="117.96" y2="303.33" stroke="#777" stroke-width="0.8"/>
<line x1="181.52" y1="269.57" x2="181.52" y2="302.68" stroke="#777" stroke-width="0.8"/>
<line x1="179.32" y1="269.57" x2="183.72" y2="269.57" stroke="#777" stroke-width="0.8"/>
<line x1="179.32" y1="302.68" x2="183.72" y2="302.68" stroke="#777" stroke-width="0.8"/>
<line x1="247.28" y1="284.35" x2="247.28" y2="306.82" stroke="#777" stroke-width="0.8"/>
<line x1="245.08" y1="284.35" x2="249.48" y2="284.35" stroke="#777" stroke-width="0.8"/>
<line x1="245.08" y1="306.82" x2="249.48" y2="306.82" stroke="#777" stroke-width="0.8"/>
<circle cx="50" cy="374.69" r="2.05" fill="#c4c4c4" stroke="#444" stroke-width="0.9"/>
<circle cx="58.22" cy="369.13" r="2.05" fill="#c4c4c4" stroke="#444" stroke-width="0.9"/>
<circle cx="66.44" cy="357.72" r="2.05" fill="#c4c4c4" stroke="#444" stroke-width="0.9"/>
<circle cx="82.88" cy="329.76" r="2.05" fill="#c4c4c4" stroke="#444" stroke-width="0.9"/>
<circle cx="115.76" cy="285.59" r="2.05" fill="#c4c4c4" stroke="#444" stroke-width="0.9"/>
<circle cx="181.52" cy="286.13" r="2.05" fill="#c4c4c4" stroke="#444" stroke-width="0.9"/>
<circle cx="247.28" cy="295.59" r="2.05" fill="#c4c4c4" stroke="#444" stroke-width="0.9"/>
<line x1="82.88" y1="362.04" x2="82.88" y2="366.77" stroke="#333" stroke-width="0.8"/>
<line x1="80.68" y1="362.04" x2="85.08" y2="362.04" stroke="#333" stroke-width="0.8"/>
<line x1="80.68" y1="366.77" x2="85.08" y2="366.77" stroke="#333" stroke-width="0.8"/>
<line x1="115.76" y1="352.81" x2="115.76" y2="358.73" stroke="#333" stroke-width="0.8"/>
<line x1="113.56" y1="352.81" x2="117.96" y2="352.81" stroke="#333" stroke-width="0.8"/>
<line x1="113.56" y1="358.73" x2="117.96" y2="358.73" stroke="#333" stroke-width="0.8"/>
<line x1="181.52" y1="342.29" x2="181.52" y2="351.75" stroke="#333" stroke-width="0.8"/>
<line x1="179.32" y1="342.29" x2="183.72" y2="342.29" stroke="#333" stroke-width="0.8"/>
<line x1="179.32" y1="351.75" x2="183.72" y2="351.75" stroke="#333" stroke-width="0.8"/>
<line x1="247.28" y1="349.62" x2="247.28" y2="356.72" stroke="#333" stroke-width="0.8"/>
<line x1="245.08" y1="349.62" x2="249.48" y2="349.62" stroke="#333" stroke-width="0.8"/>
<line x1="245.08" y1="356.72" x2="249.48" y2="356.72" stroke="#333" stroke-width="0.8"/>
<path d="M47.85,373.18L52.15,373.18L50,376.95Z" fill="#000" stroke="#000" stroke-width="0.9"/>
<path d="M56.07,372L60.37,372L58.22,375.77Z" fill="#000" stroke="#000" stroke-width="0.9"/>
<path d="M64.29,370.23L68.59,370.23L66.44,373.99Z" fill="#000" stroke="#000" stroke-width="0.9"/>
<path d="M80.73,362.89L85.03,362.89L82.88,366.66Z" fill="#000" stroke="#000" stroke-width="0.9"/>
<path d="M113.61,354.26L117.91,354.26L115.76,358.03Z" fill="#000" stroke="#000" stroke-width="0.9"/>
<path d="M179.37,345.51L183.67,345.51L181.52,349.28Z" fill="#000" stroke="#000" stroke-width="0.9"/>
<path d="M245.13,351.66L249.43,351.66L247.28,355.43Z" fill="#000" stroke="#000" stroke-width="0.9"/>
<rect x="47.95" y="372.64" width="4.1" height="4.1" fill="#fff" stroke="#333" stroke-width="0.9"/>
<rect x="56.17" y="372.64" width="4.1" height="4.1" fill="#fff" stroke="#333" stroke-width="0.9"/>
<rect x="64.39" y="372.64" width="4.1" height="4.1" fill="#fff" stroke="#333" stroke-width="0.9"/>
<rect x="80.83" y="372.64" width="4.1" height="4.1" fill="#fff" stroke="#333" stroke-width="0.9"/>
<rect x="113.71" y="372.64" width="4.1" height="4.1" fill="#fff" stroke="#333" stroke-width="0.9"/>
<rect x="179.47" y="372.64" width="4.1" height="4.1" fill="#fff" stroke="#333" stroke-width="0.9"/>
<rect x="245.23" y="372.64" width="4.1" height="4.1" fill="#fff" stroke="#333" stroke-width="0.9"/>
<path d="M66.44,345L67.09,346.11L68.34,346.38L67.49,347.34L67.62,348.62L66.44,348.1L65.26,348.62L65.39,347.34L64.54,346.38L65.79,346.11Z" fill="#111" stroke="#111" stroke-width="0.5"/>
<path d="M80.68,315.1L81.33,316.21L82.58,316.48L81.73,317.44L81.86,318.72L80.68,318.2L79.5,318.72L79.63,317.44L78.78,316.48L80.03,316.21Z" fill="#111" stroke="#111" stroke-width="0.5"/>
<path d="M85.08,315.1L85.73,316.21L86.98,316.48L86.13,317.44L86.26,318.72L85.08,318.2L83.9,318.72L84.03,317.44L83.18,316.48L84.43,316.21Z" fill="#111" stroke="#111" stroke-width="0.5"/>
<path d="M113.56,263.1L114.21,264.21L115.46,264.48L114.61,265.44L114.74,266.72L113.56,266.2L112.38,266.72L112.51,265.44L111.66,264.48L112.91,264.21Z" fill="#111" stroke="#111" stroke-width="0.5"/>
<path d="M117.96,263.1L118.61,264.21L119.86,264.48L119.01,265.44L119.14,266.72L117.96,266.2L116.78,266.72L116.91,265.44L116.06,264.48L117.31,264.21Z" fill="#111" stroke="#111" stroke-width="0.5"/>
<path d="M179.32,265L179.97,266.11L181.22,266.38L180.37,267.34L180.5,268.62L179.32,268.1L178.14,268.62L178.27,267.34L177.42,266.38L178.67,266.11Z" fill="#111" stroke="#111" stroke-width="0.5"/>
<path d="M183.72,265L184.37,266.11L185.62,266.38L184.77,267.34L184.9,268.62L183.72,268.1L182.54,268.62L182.67,267.34L181.82,266.38L183.07,266.11Z" fill="#111" stroke="#111" stroke-width="0.5"/>
<path d="M245.08,279.3L245.73,280.41L246.98,280.68L246.13,281.64L246.26,282.92L245.08,282.4L243.9,282.92L244.03,281.64L243.18,280.68L244.43,280.41Z" fill="#111" stroke="#111" stroke-width="0.5"/>
<path d="M249.48,279.3L250.13,280.41L251.38,280.68L250.53,281.64L250.66,282.92L249.48,282.4L248.3,282.92L248.43,281.64L247.58,280.68L248.83,280.41Z" fill="#111" stroke="#111" stroke-width="0.5"/>
<line x1="54" y1="240.3" x2="72" y2="240.3" stroke="#333" stroke-width="0.9"/>
<circle cx="63.5" cy="240.3" r="2.05" fill="#000" stroke="#000" stroke-width="0.9"/>
<text x="77" y="243.4" class="lg" font-size="8.8" textLength="20.01" lengthAdjust="spacingAndGlyphs">HL5B</text>
<line x1="54" y1="250.4" x2="72" y2="250.4" stroke="#333" stroke-width="0.9"/>
<circle cx="63.5" cy="250.4" r="2.05" fill="#c4c4c4" stroke="#444" stroke-width="0.9"/>
<text x="77" y="253.5" class="lg" font-size="8.8" textLength="43.81" lengthAdjust="spacingAndGlyphs">HL5B+R848</text>
<line x1="54" y1="260.5" x2="72" y2="260.5" stroke="#333" stroke-width="0.9"/>
<path d="M61.35,258.99L65.65,258.99L63.5,262.76Z" fill="#000" stroke="#000" stroke-width="0.9"/>
<text x="77" y="263.6" class="lg" font-size="8.8" textLength="19.12" lengthAdjust="spacingAndGlyphs">R848</text>
<line x1="54" y1="270.6" x2="72" y2="270.6" stroke="#777" stroke-width="0.9"/>
<rect x="61.45" y="268.55" width="4.1" height="4.1" fill="#fff" stroke="#333" stroke-width="0.9"/>
<text x="77" y="273.7" class="lg" font-size="8.8" textLength="17.34" lengthAdjust="spacingAndGlyphs">unst.</text>
<rect x="313" y="233" width="205.3" height="146.9" fill="none" stroke="#6a6a6a" stroke-width="1"/>
<line x1="310.5" y1="379.9" x2="313" y2="379.9" stroke="#6a6a6a" stroke-width="1"/>
<text x="306" y="383.5" font-size="10" text-anchor="end">0</text>
<line x1="310.5" y1="350.52" x2="313" y2="350.52" stroke="#6a6a6a" stroke-width="1"/>
<text x="306" y="354.12" font-size="10" text-anchor="end">100</text>
<line x1="310.5" y1="321.14" x2="313" y2="321.14" stroke="#6a6a6a" stroke-width="1"/>
<text x="306" y="324.74" font-size="10" text-anchor="end">200</text>
<line x1="310.5" y1="291.76" x2="313" y2="291.76" stroke="#6a6a6a" stroke-width="1"/>
<text x="306" y="295.36" font-size="10" text-anchor="end">300</text>
<line x1="310.5" y1="262.38" x2="313" y2="262.38" stroke="#6a6a6a" stroke-width="1"/>
<text x="306" y="265.98" font-size="10" text-anchor="end">400</text>
<line x1="310.5" y1="233" x2="313" y2="233" stroke="#6a6a6a" stroke-width="1"/>
<text x="306" y="236.6" font-size="10" text-anchor="end">500</text>
<line x1="313" y1="379.9" x2="313" y2="382.4" stroke="#6a6a6a" stroke-width="1"/>
<text x="313" y="397.3" font-size="10" text-anchor="middle">0</text>
<line x1="321.21" y1="379.9" x2="321.21" y2="381.4" stroke="#6a6a6a" stroke-width="0.8"/>
<line x1="329.42" y1="379.9" x2="329.42" y2="381.4" stroke="#6a6a6a" stroke-width="0.8"/>
<line x1="337.64" y1="379.9" x2="337.64" y2="381.4" stroke="#6a6a6a" stroke-width="0.8"/>
<line x1="345.85" y1="379.9" x2="345.85" y2="382.4" stroke="#6a6a6a" stroke-width="1"/>
<text x="345.85" y="397.3" font-size="10" text-anchor="middle">1</text>
<line x1="354.06" y1="379.9" x2="354.06" y2="381.4" stroke="#6a6a6a" stroke-width="0.8"/>
<line x1="362.27" y1="379.9" x2="362.27" y2="381.4" stroke="#6a6a6a" stroke-width="0.8"/>
<line x1="370.48" y1="379.9" x2="370.48" y2="381.4" stroke="#6a6a6a" stroke-width="0.8"/>
<line x1="378.7" y1="379.9" x2="378.7" y2="382.4" stroke="#6a6a6a" stroke-width="1"/>
<text x="378.7" y="397.3" font-size="10" text-anchor="middle">2</text>
<line x1="386.91" y1="379.9" x2="386.91" y2="381.4" stroke="#6a6a6a" stroke-width="0.8"/>
<line x1="395.12" y1="379.9" x2="395.12" y2="381.4" stroke="#6a6a6a" stroke-width="0.8"/>
<line x1="403.33" y1="379.9" x2="403.33" y2="381.4" stroke="#6a6a6a" stroke-width="0.8"/>
<line x1="411.54" y1="379.9" x2="411.54" y2="382.4" stroke="#6a6a6a" stroke-width="1"/>
<text x="411.54" y="397.3" font-size="10" text-anchor="middle">3</text>
<line x1="419.76" y1="379.9" x2="419.76" y2="381.4" stroke="#6a6a6a" stroke-width="0.8"/>
<line x1="427.97" y1="379.9" x2="427.97" y2="381.4" stroke="#6a6a6a" stroke-width="0.8"/>
<line x1="436.18" y1="379.9" x2="436.18" y2="381.4" stroke="#6a6a6a" stroke-width="0.8"/>
<line x1="444.39" y1="379.9" x2="444.39" y2="382.4" stroke="#6a6a6a" stroke-width="1"/>
<text x="444.39" y="397.3" font-size="10" text-anchor="middle">4</text>
<line x1="452.6" y1="379.9" x2="452.6" y2="381.4" stroke="#6a6a6a" stroke-width="0.8"/>
<line x1="460.82" y1="379.9" x2="460.82" y2="381.4" stroke="#6a6a6a" stroke-width="0.8"/>
<line x1="469.03" y1="379.9" x2="469.03" y2="381.4" stroke="#6a6a6a" stroke-width="0.8"/>
<line x1="477.24" y1="379.9" x2="477.24" y2="382.4" stroke="#6a6a6a" stroke-width="1"/>
<text x="477.24" y="397.3" font-size="10" text-anchor="middle">5</text>
<line x1="485.45" y1="379.9" x2="485.45" y2="381.4" stroke="#6a6a6a" stroke-width="0.8"/>
<line x1="493.66" y1="379.9" x2="493.66" y2="381.4" stroke="#6a6a6a" stroke-width="0.8"/>
<line x1="501.88" y1="379.9" x2="501.88" y2="381.4" stroke="#6a6a6a" stroke-width="0.8"/>
<line x1="510.09" y1="379.9" x2="510.09" y2="382.4" stroke="#6a6a6a" stroke-width="1"/>
<text x="510.09" y="397.3" font-size="10" text-anchor="middle">6</text>
<text x="415.65" y="414.4" font-size="10.5" text-anchor="middle">time [h]</text>
<text transform="translate(268.5,308.25) rotate(-90)" font-size="10.5" text-anchor="middle">relative expression of</text>
<text transform="translate(280.8,306.95) rotate(-90) scale(1,0.94)" font-size="10.5" text-anchor="middle">TNF&#945; mRNA</text>
<path d="M313,379.9L321.21,379.9L329.42,379.61L345.85,379.02L378.7,371.38L444.39,364.92L510.09,368.44" fill="none" stroke="#333" stroke-width="0.9"/>
<path d="M313,379.9L321.21,379.31L329.42,376.08L345.85,366.09L378.7,327.9L444.39,287.94L510.09,272.37" fill="none" stroke="#333" stroke-width="0.9"/>
<path d="M313,379.9L321.21,379.9L329.42,379.31L345.85,374.32L378.7,362.57L444.39,354.93L510.09,353.6" fill="none" stroke="#333" stroke-width="0.9"/>
<path d="M313,379.9L321.21,379.9L329.42,379.9L345.85,379.9L378.7,379.9L444.39,379.9L510.09,379.9" fill="none" stroke="#777" stroke-width="0.9"/>
<line x1="444.39" y1="362.86" x2="444.39" y2="366.97" stroke="#333" stroke-width="0.8"/>
<line x1="442.19" y1="362.86" x2="446.59" y2="362.86" stroke="#333" stroke-width="0.8"/>
<line x1="442.19" y1="366.97" x2="446.59" y2="366.97" stroke="#333" stroke-width="0.8"/>
<line x1="510.09" y1="367.27" x2="510.09" y2="369.62" stroke="#333" stroke-width="0.8"/>
<line x1="507.89" y1="367.27" x2="512.29" y2="367.27" stroke="#333" stroke-width="0.8"/>
<line x1="507.89" y1="369.62" x2="512.29" y2="369.62" stroke="#333" stroke-width="0.8"/>
<circle cx="313" cy="379.9" r="2.05" fill="#000" stroke="#000" stroke-width="0.9"/>
<circle cx="321.21" cy="379.9" r="2.05" fill="#000" stroke="#000" stroke-width="0.9"/>
<circle cx="329.42" cy="379.61" r="2.05" fill="#000" stroke="#000" stroke-width="0.9"/>
<circle cx="345.85" cy="379.02" r="2.05" fill="#000" stroke="#000" stroke-width="0.9"/>
<circle cx="378.7" cy="371.38" r="2.05" fill="#000" stroke="#000" stroke-width="0.9"/>
<circle cx="444.39" cy="364.92" r="2.05" fill="#000" stroke="#000" stroke-width="0.9"/>
<rect x="508.04" y="366.39" width="4.1" height="4.1" fill="#000" stroke="#000" stroke-width="0.9"/>
<line x1="345.85" y1="364.03" x2="345.85" y2="368.15" stroke="#777" stroke-width="0.8"/>
<line x1="343.65" y1="364.03" x2="348.05" y2="364.03" stroke="#777" stroke-width="0.8"/>
<line x1="343.65" y1="368.15" x2="348.05" y2="368.15" stroke="#777" stroke-width="0.8"/>
<line x1="378.7" y1="315.26" x2="378.7" y2="340.53" stroke="#777" stroke-width="0.8"/>
<line x1="376.5" y1="315.26" x2="380.9" y2="315.26" stroke="#777" stroke-width="0.8"/>
<line x1="376.5" y1="340.53" x2="380.9" y2="340.53" stroke="#777" stroke-width="0.8"/>
<line x1="444.39" y1="270.61" x2="444.39" y2="305.27" stroke="#777" stroke-width="0.8"/>
<line x1="442.19" y1="270.61" x2="446.59" y2="270.61" stroke="#777" stroke-width="0.8"/>
<line x1="442.19" y1="305.27" x2="446.59" y2="305.27" stroke="#777" stroke-width="0.8"/>
<line x1="510.09" y1="253.27" x2="510.09" y2="291.47" stroke="#777" stroke-width="0.8"/>
<line x1="507.89" y1="253.27" x2="512.29" y2="253.27" stroke="#777" stroke-width="0.8"/>
<line x1="507.89" y1="291.47" x2="512.29" y2="291.47" stroke="#777" stroke-width="0.8"/>
<circle cx="313" cy="379.9" r="2.05" fill="#c4c4c4" stroke="#444" stroke-width="0.9"/>
<circle cx="321.21" cy="379.31" r="2.05" fill="#c4c4c4" stroke="#444" stroke-width="0.9"/>
<circle cx="329.42" cy="376.08" r="2.05" fill="#c4c4c4" stroke="#444" stroke-width="0.9"/>
<rect x="343.8" y="364.04" width="4.1" height="4.1" fill="#c4c4c4" stroke="#444" stroke-width="0.9"/>
<circle cx="378.7" cy="327.9" r="2.05" fill="#c4c4c4" stroke="#444" stroke-width="0.9"/>
<circle cx="444.39" cy="287.94" r="2.05" fill="#c4c4c4" stroke="#444" stroke-width="0.9"/>
<circle cx="510.09" cy="272.37" r="2.05" fill="#c4c4c4" stroke="#444" stroke-width="0.9"/>
<line x1="378.7" y1="361.1" x2="378.7" y2="364.03" stroke="#333" stroke-width="0.8"/>
<line x1="376.5" y1="361.1" x2="380.9" y2="361.1" stroke="#333" stroke-width="0.8"/>
<line x1="376.5" y1="364.03" x2="380.9" y2="364.03" stroke="#333" stroke-width="0.8"/>
<line x1="444.39" y1="352.58" x2="444.39" y2="357.28" stroke="#333" stroke-width="0.8"/>
<line x1="442.19" y1="352.58" x2="446.59" y2="352.58" stroke="#333" stroke-width="0.8"/>
<line x1="442.19" y1="357.28" x2="446.59" y2="357.28" stroke="#333" stroke-width="0.8"/>
<line x1="510.09" y1="349.49" x2="510.09" y2="357.72" stroke="#333" stroke-width="0.8"/>
<line x1="507.89" y1="349.49" x2="512.29" y2="349.49" stroke="#333" stroke-width="0.8"/>
<line x1="507.89" y1="357.72" x2="512.29" y2="357.72" stroke="#333" stroke-width="0.8"/>
<path d="M310.85,378.39L315.15,378.39L313,382.16Z" fill="#000" stroke="#000" stroke-width="0.9"/>
<path d="M319.06,378.39L323.36,378.39L321.21,382.16Z" fill="#000" stroke="#000" stroke-width="0.9"/>
<path d="M327.27,377.81L331.58,377.81L329.42,381.57Z" fill="#000" stroke="#000" stroke-width="0.9"/>
<path d="M343.7,372.81L348,372.81L345.85,376.58Z" fill="#000" stroke="#000" stroke-width="0.9"/>
<path d="M376.54,361.06L380.85,361.06L378.7,364.83Z" fill="#000" stroke="#000" stroke-width="0.9"/>
<path d="M442.24,353.42L446.54,353.42L444.39,357.19Z" fill="#000" stroke="#000" stroke-width="0.9"/>
<path d="M507.94,352.1L512.24,352.1L510.09,355.87Z" fill="#000" stroke="#000" stroke-width="0.9"/>
<circle cx="313" cy="379.9" r="2.05" fill="#fff" stroke="#333" stroke-width="0.9"/>
<circle cx="321.21" cy="379.9" r="2.05" fill="#fff" stroke="#333" stroke-width="0.9"/>
<circle cx="329.42" cy="379.9" r="2.05" fill="#fff" stroke="#333" stroke-width="0.9"/>
<circle cx="345.85" cy="379.9" r="2.05" fill="#fff" stroke="#333" stroke-width="0.9"/>
<circle cx="378.7" cy="379.9" r="2.05" fill="#fff" stroke="#333" stroke-width="0.9"/>
<circle cx="444.39" cy="379.9" r="2.05" fill="#fff" stroke="#333" stroke-width="0.9"/>
<circle cx="510.09" cy="379.9" r="2.05" fill="#fff" stroke="#333" stroke-width="0.9"/>
<path d="M345.85,358.8L346.49,359.91L347.75,360.18L346.89,361.14L347.02,362.42L345.85,361.9L344.67,362.42L344.8,361.14L343.95,360.18L345.2,359.91Z" fill="#111" stroke="#111" stroke-width="0.5"/>
<path d="M376.5,310.3L377.14,311.41L378.4,311.68L377.54,312.64L377.67,313.92L376.5,313.4L375.32,313.92L375.45,312.64L374.59,311.68L375.85,311.41Z" fill="#111" stroke="#111" stroke-width="0.5"/>
<path d="M380.9,310.3L381.54,311.41L382.8,311.68L381.94,312.64L382.07,313.92L380.9,313.4L379.72,313.92L379.85,312.64L378.99,311.68L380.25,311.41Z" fill="#111" stroke="#111" stroke-width="0.5"/>
<path d="M442.19,265.7L442.84,266.81L444.09,267.08L443.24,268.04L443.37,269.32L442.19,268.8L441.02,269.32L441.15,268.04L440.29,267.08L441.55,266.81Z" fill="#111" stroke="#111" stroke-width="0.5"/>
<path d="M446.59,265.7L447.24,266.81L448.49,267.08L447.64,268.04L447.77,269.32L446.59,268.8L445.42,269.32L445.55,268.04L444.69,267.08L445.95,266.81Z" fill="#111" stroke="#111" stroke-width="0.5"/>
<path d="M507.89,247.8L508.53,248.91L509.79,249.18L508.93,250.14L509.06,251.42L507.89,250.9L506.71,251.42L506.84,250.14L505.99,249.18L507.24,248.91Z" fill="#111" stroke="#111" stroke-width="0.5"/>
<path d="M512.29,247.8L512.93,248.91L514.19,249.18L513.33,250.14L513.46,251.42L512.29,250.9L511.11,251.42L511.24,250.14L510.39,249.18L511.64,248.91Z" fill="#111" stroke="#111" stroke-width="0.5"/>
<line x1="317" y1="240.6" x2="335" y2="240.6" stroke="#333" stroke-width="0.9"/>
<circle cx="326.5" cy="240.6" r="2.05" fill="#000" stroke="#000" stroke-width="0.9"/>
<text x="340" y="243.7" class="lg" font-size="8.8" textLength="20.01" lengthAdjust="spacingAndGlyphs">HL5B</text>
<line x1="317" y1="250.9" x2="335" y2="250.9" stroke="#333" stroke-width="0.9"/>
<circle cx="326.5" cy="250.9" r="2.05" fill="#c4c4c4" stroke="#444" stroke-width="0.9"/>
<text x="340" y="254" class="lg" font-size="8.8" textLength="43.81" lengthAdjust="spacingAndGlyphs">HL5B+R848</text>
<line x1="317" y1="261.2" x2="335" y2="261.2" stroke="#333" stroke-width="0.9"/>
<path d="M324.35,259.69L328.65,259.69L326.5,263.46Z" fill="#000" stroke="#000" stroke-width="0.9"/>
<text x="340" y="264.3" class="lg" font-size="8.8" textLength="19.12" lengthAdjust="spacingAndGlyphs">R848</text>
<line x1="317" y1="271.5" x2="335" y2="271.5" stroke="#777" stroke-width="0.9"/>
<circle cx="326.5" cy="271.5" r="2.05" fill="#fff" stroke="#333" stroke-width="0.9"/>
<text x="340" y="274.6" class="lg" font-size="8.8" textLength="15.12" lengthAdjust="spacingAndGlyphs">unst</text>
<text x="0.6" y="453.2" font-size="17" font-weight="bold">C</text>
<rect x="49" y="458.5" width="205.6" height="148.3" fill="none" stroke="#6a6a6a" stroke-width="1"/>
<line x1="46.5" y1="606.8" x2="49" y2="606.8" stroke="#6a6a6a" stroke-width="1"/>
<text x="42" y="610.4" font-size="10" text-anchor="end">0</text>
<line x1="46.5" y1="582.08" x2="49" y2="582.08" stroke="#6a6a6a" stroke-width="1"/>
<text x="42" y="585.68" font-size="10" text-anchor="end">2</text>
<line x1="46.5" y1="557.37" x2="49" y2="557.37" stroke="#6a6a6a" stroke-width="1"/>
<text x="42" y="560.97" font-size="10" text-anchor="end">4</text>
<line x1="46.5" y1="532.65" x2="49" y2="532.65" stroke="#6a6a6a" stroke-width="1"/>
<text x="42" y="536.25" font-size="10" text-anchor="end">6</text>
<line x1="46.5" y1="507.93" x2="49" y2="507.93" stroke="#6a6a6a" stroke-width="1"/>
<text x="42" y="511.53" font-size="10" text-anchor="end">8</text>
<line x1="46.5" y1="483.22" x2="49" y2="483.22" stroke="#6a6a6a" stroke-width="1"/>
<text x="42" y="486.82" font-size="10" text-anchor="end">10</text>
<line x1="46.5" y1="458.5" x2="49" y2="458.5" stroke="#6a6a6a" stroke-width="1"/>
<text x="42" y="462.1" font-size="10" text-anchor="end">12</text>
<line x1="49" y1="606.8" x2="49" y2="609.3" stroke="#6a6a6a" stroke-width="1"/>
<text x="49" y="624.2" font-size="10" text-anchor="middle">0</text>
<line x1="57.22" y1="606.8" x2="57.22" y2="608.3" stroke="#6a6a6a" stroke-width="0.8"/>
<line x1="65.45" y1="606.8" x2="65.45" y2="608.3" stroke="#6a6a6a" stroke-width="0.8"/>
<line x1="73.67" y1="606.8" x2="73.67" y2="608.3" stroke="#6a6a6a" stroke-width="0.8"/>
<line x1="81.9" y1="606.8" x2="81.9" y2="609.3" stroke="#6a6a6a" stroke-width="1"/>
<text x="81.9" y="624.2" font-size="10" text-anchor="middle">1</text>
<line x1="90.12" y1="606.8" x2="90.12" y2="608.3" stroke="#6a6a6a" stroke-width="0.8"/>
<line x1="98.34" y1="606.8" x2="98.34" y2="608.3" stroke="#6a6a6a" stroke-width="0.8"/>
<line x1="106.57" y1="606.8" x2="106.57" y2="608.3" stroke="#6a6a6a" stroke-width="0.8"/>
<line x1="114.79" y1="606.8" x2="114.79" y2="609.3" stroke="#6a6a6a" stroke-width="1"/>
<text x="114.79" y="624.2" font-size="10" text-anchor="middle">2</text>
<line x1="123.02" y1="606.8" x2="123.02" y2="608.3" stroke="#6a6a6a" stroke-width="0.8"/>
<line x1="131.24" y1="606.8" x2="131.24" y2="608.3" stroke="#6a6a6a" stroke-width="0.8"/>
<line x1="139.46" y1="606.8" x2="139.46" y2="608.3" stroke="#6a6a6a" stroke-width="0.8"/>
<line x1="147.69" y1="606.8" x2="147.69" y2="609.3" stroke="#6a6a6a" stroke-width="1"/>
<text x="147.69" y="624.2" font-size="10" text-anchor="middle">3</text>
<line x1="155.91" y1="606.8" x2="155.91" y2="608.3" stroke="#6a6a6a" stroke-width="0.8"/>
<line x1="164.14" y1="606.8" x2="164.14" y2="608.3" stroke="#6a6a6a" stroke-width="0.8"/>
<line x1="172.36" y1="606.8" x2="172.36" y2="608.3" stroke="#6a6a6a" stroke-width="0.8"/>
<line x1="180.58" y1="606.8" x2="180.58" y2="609.3" stroke="#6a6a6a" stroke-width="1"/>
<text x="180.58" y="624.2" font-size="10" text-anchor="middle">4</text>
<line x1="188.81" y1="606.8" x2="188.81" y2="608.3" stroke="#6a6a6a" stroke-width="0.8"/>
<line x1="197.03" y1="606.8" x2="197.03" y2="608.3" stroke="#6a6a6a" stroke-width="0.8"/>
<line x1="205.26" y1="606.8" x2="205.26" y2="608.3" stroke="#6a6a6a" stroke-width="0.8"/>
<line x1="213.48" y1="606.8" x2="213.48" y2="609.3" stroke="#6a6a6a" stroke-width="1"/>
<text x="213.48" y="624.2" font-size="10" text-anchor="middle">5</text>
<line x1="221.7" y1="606.8" x2="221.7" y2="608.3" stroke="#6a6a6a" stroke-width="0.8"/>
<line x1="229.93" y1="606.8" x2="229.93" y2="608.3" stroke="#6a6a6a" stroke-width="0.8"/>
<line x1="238.15" y1="606.8" x2="238.15" y2="608.3" stroke="#6a6a6a" stroke-width="0.8"/>
<line x1="246.38" y1="606.8" x2="246.38" y2="609.3" stroke="#6a6a6a" stroke-width="1"/>
<text x="246.38" y="624.2" font-size="10" text-anchor="middle">6</text>
<text x="151.8" y="641.3" font-size="10.5" text-anchor="middle">time [h]</text>
<text transform="translate(12.2,533.95) rotate(-90)" font-size="10.5" text-anchor="middle">relative expression of</text>
<text transform="translate(22.6,532.65) rotate(-90) scale(1,0.94)" font-size="10.2" text-anchor="middle">TLR7 mRNA</text>
<path d="M49,594.44L57.22,577.14L65.45,561.07L81.9,550.94L114.79,557.12L180.58,569.72L246.38,572.81" fill="none" stroke="#333" stroke-width="0.9"/>
<path d="M49,594.44L57.22,578.38L65.45,562.31L81.9,555.76L114.79,557.37L180.58,570.96L246.38,575.53" fill="none" stroke="#333" stroke-width="0.9" stroke-dasharray="4,2"/>
<path d="M49,594.44L57.22,573.06L65.45,561.07L81.9,545.75L114.79,526.59L180.58,520.66L246.38,506.33" fill="none" stroke="#333" stroke-width="0.9"/>
<path d="M49,594.44L57.22,569.72L65.45,559.84L81.9,544.51L114.79,529.68L180.58,521.53L246.38,507.93" fill="none" stroke="#333" stroke-width="0.9" stroke-dasharray="4,2"/>
<line x1="57.22" y1="573.43" x2="57.22" y2="580.85" stroke="#333" stroke-width="0.8"/>
<line x1="55.02" y1="573.43" x2="59.42" y2="573.43" stroke="#333" stroke-width="0.8"/>
<line x1="55.02" y1="580.85" x2="59.42" y2="580.85" stroke="#333" stroke-width="0.8"/>
<line x1="65.45" y1="557.37" x2="65.45" y2="564.78" stroke="#333" stroke-width="0.8"/>
<line x1="63.25" y1="557.37" x2="67.65" y2="557.37" stroke="#333" stroke-width="0.8"/>
<line x1="63.25" y1="564.78" x2="67.65" y2="564.78" stroke="#333" stroke-width="0.8"/>
<line x1="81.9" y1="547.23" x2="81.9" y2="554.65" stroke="#333" stroke-width="0.8"/>
<line x1="79.7" y1="547.23" x2="84.1" y2="547.23" stroke="#333" stroke-width="0.8"/>
<line x1="79.7" y1="554.65" x2="84.1" y2="554.65" stroke="#333" stroke-width="0.8"/>
<line x1="114.79" y1="549.09" x2="114.79" y2="565.15" stroke="#333" stroke-width="0.8"/>
<line x1="112.59" y1="549.09" x2="116.99" y2="549.09" stroke="#333" stroke-width="0.8"/>
<line x1="112.59" y1="565.15" x2="116.99" y2="565.15" stroke="#333" stroke-width="0.8"/>
<line x1="180.58" y1="565.4" x2="180.58" y2="574.05" stroke="#333" stroke-width="0.8"/>
<line x1="178.38" y1="565.4" x2="182.78" y2="565.4" stroke="#333" stroke-width="0.8"/>
<line x1="178.38" y1="574.05" x2="182.78" y2="574.05" stroke="#333" stroke-width="0.8"/>
<line x1="246.38" y1="570.34" x2="246.38" y2="575.29" stroke="#333" stroke-width="0.8"/>
<line x1="244.18" y1="570.34" x2="248.58" y2="570.34" stroke="#333" stroke-width="0.8"/>
<line x1="244.18" y1="575.29" x2="248.58" y2="575.29" stroke="#333" stroke-width="0.8"/>
<circle cx="49" cy="594.44" r="2.05" fill="#000" stroke="#000" stroke-width="0.9"/>
<circle cx="57.22" cy="577.14" r="2.05" fill="#000" stroke="#000" stroke-width="0.9"/>
<circle cx="65.45" cy="561.07" r="2.05" fill="#000" stroke="#000" stroke-width="0.9"/>
<circle cx="81.9" cy="550.94" r="2.05" fill="#000" stroke="#000" stroke-width="0.9"/>
<circle cx="114.79" cy="557.12" r="2.05" fill="#000" stroke="#000" stroke-width="0.9"/>
<circle cx="180.58" cy="569.72" r="2.05" fill="#000" stroke="#000" stroke-width="0.9"/>
<rect x="244.33" y="570.76" width="4.1" height="4.1" fill="#000" stroke="#000" stroke-width="0.9"/>
<line x1="57.22" y1="574.67" x2="57.22" y2="582.08" stroke="#333" stroke-width="0.8"/>
<line x1="55.02" y1="574.67" x2="59.42" y2="574.67" stroke="#333" stroke-width="0.8"/>
<line x1="55.02" y1="582.08" x2="59.42" y2="582.08" stroke="#333" stroke-width="0.8"/>
<line x1="65.45" y1="558.6" x2="65.45" y2="566.02" stroke="#333" stroke-width="0.8"/>
<line x1="63.25" y1="558.6" x2="67.65" y2="558.6" stroke="#333" stroke-width="0.8"/>
<line x1="63.25" y1="566.02" x2="67.65" y2="566.02" stroke="#333" stroke-width="0.8"/>
<line x1="81.9" y1="552.05" x2="81.9" y2="559.47" stroke="#333" stroke-width="0.8"/>
<line x1="79.7" y1="552.05" x2="84.1" y2="552.05" stroke="#333" stroke-width="0.8"/>
<line x1="79.7" y1="559.47" x2="84.1" y2="559.47" stroke="#333" stroke-width="0.8"/>
<line x1="114.79" y1="549.33" x2="114.79" y2="565.4" stroke="#333" stroke-width="0.8"/>
<line x1="112.59" y1="549.33" x2="116.99" y2="549.33" stroke="#333" stroke-width="0.8"/>
<line x1="112.59" y1="565.4" x2="116.99" y2="565.4" stroke="#333" stroke-width="0.8"/>
<line x1="180.58" y1="566.64" x2="180.58" y2="575.29" stroke="#333" stroke-width="0.8"/>
<line x1="178.38" y1="566.64" x2="182.78" y2="566.64" stroke="#333" stroke-width="0.8"/>
<line x1="178.38" y1="575.29" x2="182.78" y2="575.29" stroke="#333" stroke-width="0.8"/>
<line x1="246.38" y1="571.83" x2="246.38" y2="579.24" stroke="#333" stroke-width="0.8"/>
<line x1="244.18" y1="571.83" x2="248.58" y2="571.83" stroke="#333" stroke-width="0.8"/>
<line x1="244.18" y1="579.24" x2="248.58" y2="579.24" stroke="#333" stroke-width="0.8"/>
<circle cx="49" cy="594.44" r="2.05" fill="#fff" stroke="#333" stroke-width="0.9"/>
<circle cx="57.22" cy="578.38" r="2.05" fill="#fff" stroke="#333" stroke-width="0.9"/>
<circle cx="65.45" cy="562.31" r="2.05" fill="#fff" stroke="#333" stroke-width="0.9"/>
<circle cx="81.9" cy="555.76" r="2.05" fill="#fff" stroke="#333" stroke-width="0.9"/>
<circle cx="114.79" cy="557.37" r="2.05" fill="#fff" stroke="#333" stroke-width="0.9"/>
<circle cx="180.58" cy="570.96" r="2.05" fill="#fff" stroke="#333" stroke-width="0.9"/>
<circle cx="246.38" cy="575.53" r="2.05" fill="#fff" stroke="#333" stroke-width="0.9"/>
<line x1="57.22" y1="569.35" x2="57.22" y2="576.77" stroke="#333" stroke-width="0.8"/>
<line x1="55.02" y1="569.35" x2="59.42" y2="569.35" stroke="#333" stroke-width="0.8"/>
<line x1="55.02" y1="576.77" x2="59.42" y2="576.77" stroke="#333" stroke-width="0.8"/>
<line x1="65.45" y1="556.13" x2="65.45" y2="566.02" stroke="#333" stroke-width="0.8"/>
<line x1="63.25" y1="556.13" x2="67.65" y2="556.13" stroke="#333" stroke-width="0.8"/>
<line x1="63.25" y1="566.02" x2="67.65" y2="566.02" stroke="#333" stroke-width="0.8"/>
<line x1="81.9" y1="540.81" x2="81.9" y2="550.69" stroke="#333" stroke-width="0.8"/>
<line x1="79.7" y1="540.81" x2="84.1" y2="540.81" stroke="#333" stroke-width="0.8"/>
<line x1="79.7" y1="550.69" x2="84.1" y2="550.69" stroke="#333" stroke-width="0.8"/>
<line x1="114.79" y1="519.43" x2="114.79" y2="533.76" stroke="#333" stroke-width="0.8"/>
<line x1="112.59" y1="519.43" x2="116.99" y2="519.43" stroke="#333" stroke-width="0.8"/>
<line x1="112.59" y1="533.76" x2="116.99" y2="533.76" stroke="#333" stroke-width="0.8"/>
<line x1="180.58" y1="510.78" x2="180.58" y2="530.55" stroke="#333" stroke-width="0.8"/>
<line x1="178.38" y1="510.78" x2="182.78" y2="510.78" stroke="#333" stroke-width="0.8"/>
<line x1="178.38" y1="530.55" x2="182.78" y2="530.55" stroke="#333" stroke-width="0.8"/>
<line x1="246.38" y1="502.62" x2="246.38" y2="510.03" stroke="#333" stroke-width="0.8"/>
<line x1="244.18" y1="502.62" x2="248.58" y2="502.62" stroke="#333" stroke-width="0.8"/>
<line x1="244.18" y1="510.03" x2="248.58" y2="510.03" stroke="#333" stroke-width="0.8"/>
<path d="M46.85,592.93L51.15,592.93L49,596.7Z" fill="#000" stroke="#000" stroke-width="0.9"/>
<path d="M55.07,571.55L59.38,571.55L57.22,575.32Z" fill="#000" stroke="#000" stroke-width="0.9"/>
<path d="M63.3,559.57L67.6,559.57L65.45,563.33Z" fill="#000" stroke="#000" stroke-width="0.9"/>
<path d="M79.74,544.24L84.05,544.24L81.9,548.01Z" fill="#000" stroke="#000" stroke-width="0.9"/>
<path d="M112.64,525.09L116.94,525.09L114.79,528.85Z" fill="#000" stroke="#000" stroke-width="0.9"/>
<path d="M178.43,519.16L182.74,519.16L180.58,522.92Z" fill="#000" stroke="#000" stroke-width="0.9"/>
<path d="M244.22,504.82L248.53,504.82L246.38,508.59Z" fill="#000" stroke="#000" stroke-width="0.9"/>
<line x1="57.22" y1="566.02" x2="57.22" y2="573.43" stroke="#333" stroke-width="0.8"/>
<line x1="55.02" y1="566.02" x2="59.42" y2="566.02" stroke="#333" stroke-width="0.8"/>
<line x1="55.02" y1="573.43" x2="59.42" y2="573.43" stroke="#333" stroke-width="0.8"/>
<line x1="65.45" y1="556.13" x2="65.45" y2="563.55" stroke="#333" stroke-width="0.8"/>
<line x1="63.25" y1="556.13" x2="67.65" y2="556.13" stroke="#333" stroke-width="0.8"/>
<line x1="63.25" y1="563.55" x2="67.65" y2="563.55" stroke="#333" stroke-width="0.8"/>
<line x1="81.9" y1="540.81" x2="81.9" y2="548.22" stroke="#333" stroke-width="0.8"/>
<line x1="79.7" y1="540.81" x2="84.1" y2="540.81" stroke="#333" stroke-width="0.8"/>
<line x1="79.7" y1="548.22" x2="84.1" y2="548.22" stroke="#333" stroke-width="0.8"/>
<line x1="114.79" y1="525.98" x2="114.79" y2="533.39" stroke="#333" stroke-width="0.8"/>
<line x1="112.59" y1="525.98" x2="116.99" y2="525.98" stroke="#333" stroke-width="0.8"/>
<line x1="112.59" y1="533.39" x2="116.99" y2="533.39" stroke="#333" stroke-width="0.8"/>
<line x1="180.58" y1="512.88" x2="180.58" y2="530.18" stroke="#333" stroke-width="0.8"/>
<line x1="178.38" y1="512.88" x2="182.78" y2="512.88" stroke="#333" stroke-width="0.8"/>
<line x1="178.38" y1="530.18" x2="182.78" y2="530.18" stroke="#333" stroke-width="0.8"/>
<line x1="246.38" y1="504.23" x2="246.38" y2="511.64" stroke="#333" stroke-width="0.8"/>
<line x1="244.18" y1="504.23" x2="248.58" y2="504.23" stroke="#333" stroke-width="0.8"/>
<line x1="244.18" y1="511.64" x2="248.58" y2="511.64" stroke="#333" stroke-width="0.8"/>
<path d="M46.85,595.95L51.15,595.95L49,592.18Z" fill="#fff" stroke="#333" stroke-width="0.9"/>
<path d="M55.07,571.23L59.38,571.23L57.22,567.46Z" fill="#fff" stroke="#333" stroke-width="0.9"/>
<path d="M63.3,561.35L67.6,561.35L65.45,557.58Z" fill="#fff" stroke="#333" stroke-width="0.9"/>
<path d="M79.74,546.02L84.05,546.02L81.9,542.25Z" fill="#fff" stroke="#333" stroke-width="0.9"/>
<path d="M112.64,531.19L116.94,531.19L114.79,527.42Z" fill="#fff" stroke="#333" stroke-width="0.9"/>
<path d="M178.43,523.03L182.74,523.03L180.58,519.27Z" fill="#fff" stroke="#333" stroke-width="0.9"/>
<path d="M244.22,509.44L248.53,509.44L246.38,505.67Z" fill="#fff" stroke="#333" stroke-width="0.9"/>
<line x1="56.5" y1="467" x2="74.5" y2="467" stroke="#333" stroke-width="0.9"/>
<circle cx="66" cy="467" r="2.05" fill="#000" stroke="#000" stroke-width="0.9"/>
<text x="79.5" y="470.1" class="lg" font-size="8.8" textLength="20.01" lengthAdjust="spacingAndGlyphs">HL5B</text>
<line x1="56.5" y1="477" x2="74.5" y2="477" stroke="#777" stroke-width="0.9" stroke-dasharray="2.6,1.9"/>
<circle cx="66" cy="477" r="2.05" fill="#fff" stroke="#333" stroke-width="0.9"/>
<text x="79.5" y="480.1" class="lg" font-size="8.8" textLength="49.14" lengthAdjust="spacingAndGlyphs">HL5B+RNase</text>
<line x1="56.5" y1="487" x2="74.5" y2="487" stroke="#333" stroke-width="0.9"/>
<path d="M63.85,485.49L68.15,485.49L66,489.26Z" fill="#000" stroke="#000" stroke-width="0.9"/>
<text x="79.5" y="490.1" class="lg" font-size="8.8" textLength="43.81" lengthAdjust="spacingAndGlyphs">HL5B+R848</text>
<line x1="56.5" y1="497" x2="74.5" y2="497" stroke="#777" stroke-width="0.9" stroke-dasharray="2.6,1.9"/>
<path d="M63.85,498.51L68.15,498.51L66,494.74Z" fill="#fff" stroke="#333" stroke-width="0.9"/>
<text x="79.5" y="500.1" class="lg" font-size="8.8" textLength="72.93" lengthAdjust="spacingAndGlyphs">HL5B+R848+RNase</text>
<rect x="311.4" y="458.8" width="205.9" height="148" fill="none" stroke="#6a6a6a" stroke-width="1"/>
<line x1="308.9" y1="606.8" x2="311.4" y2="606.8" stroke="#6a6a6a" stroke-width="1"/>
<text x="304.4" y="610.4" font-size="10" text-anchor="end">0</text>
<line x1="308.9" y1="582.13" x2="311.4" y2="582.13" stroke="#6a6a6a" stroke-width="1"/>
<text x="304.4" y="585.73" font-size="10" text-anchor="end">5</text>
<line x1="308.9" y1="557.47" x2="311.4" y2="557.47" stroke="#6a6a6a" stroke-width="1"/>
<text x="304.4" y="561.07" font-size="10" text-anchor="end">10</text>
<line x1="308.9" y1="532.8" x2="311.4" y2="532.8" stroke="#6a6a6a" stroke-width="1"/>
<text x="304.4" y="536.4" font-size="10" text-anchor="end">15</text>
<line x1="308.9" y1="508.13" x2="311.4" y2="508.13" stroke="#6a6a6a" stroke-width="1"/>
<text x="304.4" y="511.73" font-size="10" text-anchor="end">20</text>
<line x1="308.9" y1="483.47" x2="311.4" y2="483.47" stroke="#6a6a6a" stroke-width="1"/>
<text x="304.4" y="487.07" font-size="10" text-anchor="end">25</text>
<line x1="308.9" y1="458.8" x2="311.4" y2="458.8" stroke="#6a6a6a" stroke-width="1"/>
<text x="304.4" y="462.4" font-size="10" text-anchor="end">30</text>
<line x1="311.4" y1="606.8" x2="311.4" y2="609.3" stroke="#6a6a6a" stroke-width="1"/>
<text x="311.4" y="624.2" font-size="10" text-anchor="middle">0</text>
<line x1="319.64" y1="606.8" x2="319.64" y2="608.3" stroke="#6a6a6a" stroke-width="0.8"/>
<line x1="327.87" y1="606.8" x2="327.87" y2="608.3" stroke="#6a6a6a" stroke-width="0.8"/>
<line x1="336.11" y1="606.8" x2="336.11" y2="608.3" stroke="#6a6a6a" stroke-width="0.8"/>
<line x1="344.34" y1="606.8" x2="344.34" y2="609.3" stroke="#6a6a6a" stroke-width="1"/>
<text x="344.34" y="624.2" font-size="10" text-anchor="middle">1</text>
<line x1="352.58" y1="606.8" x2="352.58" y2="608.3" stroke="#6a6a6a" stroke-width="0.8"/>
<line x1="360.82" y1="606.8" x2="360.82" y2="608.3" stroke="#6a6a6a" stroke-width="0.8"/>
<line x1="369.05" y1="606.8" x2="369.05" y2="608.3" stroke="#6a6a6a" stroke-width="0.8"/>
<line x1="377.29" y1="606.8" x2="377.29" y2="609.3" stroke="#6a6a6a" stroke-width="1"/>
<text x="377.29" y="624.2" font-size="10" text-anchor="middle">2</text>
<line x1="385.52" y1="606.8" x2="385.52" y2="608.3" stroke="#6a6a6a" stroke-width="0.8"/>
<line x1="393.76" y1="606.8" x2="393.76" y2="608.3" stroke="#6a6a6a" stroke-width="0.8"/>
<line x1="402" y1="606.8" x2="402" y2="608.3" stroke="#6a6a6a" stroke-width="0.8"/>
<line x1="410.23" y1="606.8" x2="410.23" y2="609.3" stroke="#6a6a6a" stroke-width="1"/>
<text x="410.23" y="624.2" font-size="10" text-anchor="middle">3</text>
<line x1="418.47" y1="606.8" x2="418.47" y2="608.3" stroke="#6a6a6a" stroke-width="0.8"/>
<line x1="426.7" y1="606.8" x2="426.7" y2="608.3" stroke="#6a6a6a" stroke-width="0.8"/>
<line x1="434.94" y1="606.8" x2="434.94" y2="608.3" stroke="#6a6a6a" stroke-width="0.8"/>
<line x1="443.18" y1="606.8" x2="443.18" y2="609.3" stroke="#6a6a6a" stroke-width="1"/>
<text x="443.18" y="624.2" font-size="10" text-anchor="middle">4</text>
<line x1="451.41" y1="606.8" x2="451.41" y2="608.3" stroke="#6a6a6a" stroke-width="0.8"/>
<line x1="459.65" y1="606.8" x2="459.65" y2="608.3" stroke="#6a6a6a" stroke-width="0.8"/>
<line x1="467.88" y1="606.8" x2="467.88" y2="608.3" stroke="#6a6a6a" stroke-width="0.8"/>
<line x1="476.12" y1="606.8" x2="476.12" y2="609.3" stroke="#6a6a6a" stroke-width="1"/>
<text x="476.12" y="624.2" font-size="10" text-anchor="middle">5</text>
<line x1="484.36" y1="606.8" x2="484.36" y2="608.3" stroke="#6a6a6a" stroke-width="0.8"/>
<line x1="492.59" y1="606.8" x2="492.59" y2="608.3" stroke="#6a6a6a" stroke-width="0.8"/>
<line x1="500.83" y1="606.8" x2="500.83" y2="608.3" stroke="#6a6a6a" stroke-width="0.8"/>
<line x1="509.06" y1="606.8" x2="509.06" y2="609.3" stroke="#6a6a6a" stroke-width="1"/>
<text x="509.06" y="624.2" font-size="10" text-anchor="middle">6</text>
<text x="414.35" y="641.3" font-size="10.5" text-anchor="middle">time [h]</text>
<text transform="translate(273.3,534.1) rotate(-90)" font-size="10.5" text-anchor="middle">relative expression of</text>
<text transform="translate(285.4,533.3) rotate(-90) scale(1,0.94)" font-size="10.5" text-anchor="middle">IFN&#945; mRNA</text>
<path d="M311.4,601.87L319.64,601.87L327.87,598.22L344.34,592.2L377.29,588.05L443.18,590.52L509.06,594.12" fill="none" stroke="#333" stroke-width="0.9"/>
<path d="M311.4,601.87L319.64,601.87L327.87,601.87L344.34,601.87L377.29,601.87L443.18,601.03L509.06,601.03" fill="none" stroke="#333" stroke-width="0.9" stroke-dasharray="4,2"/>
<path d="M311.4,601.87L319.64,597.43L327.87,587.91L344.34,565.31L377.29,527.87L443.18,528.36L509.06,536.25" fill="none" stroke="#333" stroke-width="0.9"/>
<path d="M311.4,601.87L319.64,600.88L327.87,592.89L344.34,572.41L377.29,544.15L443.18,545.13L509.06,547.11" fill="none" stroke="#333" stroke-width="0.9" stroke-dasharray="4,2"/>
<line x1="344.34" y1="589.73" x2="344.34" y2="594.66" stroke="#333" stroke-width="0.8"/>
<line x1="342.14" y1="589.73" x2="346.54" y2="589.73" stroke="#333" stroke-width="0.8"/>
<line x1="342.14" y1="594.66" x2="346.54" y2="594.66" stroke="#333" stroke-width="0.8"/>
<line x1="377.29" y1="586.57" x2="377.29" y2="589.53" stroke="#333" stroke-width="0.8"/>
<line x1="375.09" y1="586.57" x2="379.49" y2="586.57" stroke="#333" stroke-width="0.8"/>
<line x1="375.09" y1="589.53" x2="379.49" y2="589.53" stroke="#333" stroke-width="0.8"/>
<line x1="443.18" y1="589.04" x2="443.18" y2="592" stroke="#333" stroke-width="0.8"/>
<line x1="440.98" y1="589.04" x2="445.38" y2="589.04" stroke="#333" stroke-width="0.8"/>
<line x1="440.98" y1="592" x2="445.38" y2="592" stroke="#333" stroke-width="0.8"/>
<line x1="509.06" y1="592.64" x2="509.06" y2="595.6" stroke="#333" stroke-width="0.8"/>
<line x1="506.86" y1="592.64" x2="511.26" y2="592.64" stroke="#333" stroke-width="0.8"/>
<line x1="506.86" y1="595.6" x2="511.26" y2="595.6" stroke="#333" stroke-width="0.8"/>
<circle cx="311.4" cy="601.87" r="2.05" fill="#000" stroke="#000" stroke-width="0.9"/>
<circle cx="319.64" cy="601.87" r="2.05" fill="#000" stroke="#000" stroke-width="0.9"/>
<circle cx="327.87" cy="598.22" r="2.05" fill="#000" stroke="#000" stroke-width="0.9"/>
<rect x="342.29" y="590.15" width="4.1" height="4.1" fill="#000" stroke="#000" stroke-width="0.9"/>
<circle cx="377.29" cy="588.05" r="2.05" fill="#000" stroke="#000" stroke-width="0.9"/>
<rect x="441.13" y="588.47" width="4.1" height="4.1" fill="#000" stroke="#000" stroke-width="0.9"/>
<rect x="507.01" y="592.07" width="4.1" height="4.1" fill="#000" stroke="#000" stroke-width="0.9"/>
<circle cx="311.4" cy="601.87" r="2.05" fill="#fff" stroke="#333" stroke-width="0.9"/>
<circle cx="319.64" cy="601.87" r="2.05" fill="#fff" stroke="#333" stroke-width="0.9"/>
<circle cx="327.87" cy="601.87" r="2.05" fill="#fff" stroke="#333" stroke-width="0.9"/>
<circle cx="344.34" cy="601.87" r="2.05" fill="#fff" stroke="#333" stroke-width="0.9"/>
<circle cx="377.29" cy="601.87" r="2.05" fill="#fff" stroke="#333" stroke-width="0.9"/>
<circle cx="443.18" cy="601.03" r="2.05" fill="#fff" stroke="#333" stroke-width="0.9"/>
<circle cx="509.06" cy="601.03" r="2.05" fill="#fff" stroke="#333" stroke-width="0.9"/>
<line x1="327.87" y1="581.99" x2="327.87" y2="593.83" stroke="#333" stroke-width="0.8"/>
<line x1="325.67" y1="581.99" x2="330.07" y2="581.99" stroke="#333" stroke-width="0.8"/>
<line x1="325.67" y1="593.83" x2="330.07" y2="593.83" stroke="#333" stroke-width="0.8"/>
<line x1="344.34" y1="556.43" x2="344.34" y2="574.19" stroke="#333" stroke-width="0.8"/>
<line x1="342.14" y1="556.43" x2="346.54" y2="556.43" stroke="#333" stroke-width="0.8"/>
<line x1="342.14" y1="574.19" x2="346.54" y2="574.19" stroke="#333" stroke-width="0.8"/>
<line x1="377.29" y1="515.53" x2="377.29" y2="540.2" stroke="#333" stroke-width="0.8"/>
<line x1="375.09" y1="515.53" x2="379.49" y2="515.53" stroke="#333" stroke-width="0.8"/>
<line x1="375.09" y1="540.2" x2="379.49" y2="540.2" stroke="#333" stroke-width="0.8"/>
<line x1="443.18" y1="519.97" x2="443.18" y2="536.75" stroke="#333" stroke-width="0.8"/>
<line x1="440.98" y1="519.97" x2="445.38" y2="519.97" stroke="#333" stroke-width="0.8"/>
<line x1="440.98" y1="536.75" x2="445.38" y2="536.75" stroke="#333" stroke-width="0.8"/>
<line x1="509.06" y1="526.39" x2="509.06" y2="546.12" stroke="#333" stroke-width="0.8"/>
<line x1="506.86" y1="526.39" x2="511.26" y2="526.39" stroke="#333" stroke-width="0.8"/>
<line x1="506.86" y1="546.12" x2="511.26" y2="546.12" stroke="#333" stroke-width="0.8"/>
<path d="M309.25,600.36L313.55,600.36L311.4,604.13Z" fill="#000" stroke="#000" stroke-width="0.9"/>
<path d="M317.48,595.92L321.79,595.92L319.64,599.69Z" fill="#000" stroke="#000" stroke-width="0.9"/>
<path d="M325.72,586.4L330.02,586.4L327.87,590.17Z" fill="#000" stroke="#000" stroke-width="0.9"/>
<path d="M342.19,563.8L346.5,563.8L344.34,567.57Z" fill="#000" stroke="#000" stroke-width="0.9"/>
<path d="M375.14,526.36L379.44,526.36L377.29,530.13Z" fill="#000" stroke="#000" stroke-width="0.9"/>
<path d="M441.02,526.85L445.33,526.85L443.18,530.62Z" fill="#000" stroke="#000" stroke-width="0.9"/>
<path d="M506.91,534.75L511.22,534.75L509.06,538.51Z" fill="#000" stroke="#000" stroke-width="0.9"/>
<line x1="327.87" y1="589.93" x2="327.87" y2="595.85" stroke="#333" stroke-width="0.8"/>
<line x1="325.67" y1="589.93" x2="330.07" y2="589.93" stroke="#333" stroke-width="0.8"/>
<line x1="325.67" y1="595.85" x2="330.07" y2="595.85" stroke="#333" stroke-width="0.8"/>
<line x1="344.34" y1="569.45" x2="344.34" y2="575.37" stroke="#333" stroke-width="0.8"/>
<line x1="342.14" y1="569.45" x2="346.54" y2="569.45" stroke="#333" stroke-width="0.8"/>
<line x1="342.14" y1="575.37" x2="346.54" y2="575.37" stroke="#333" stroke-width="0.8"/>
<line x1="377.29" y1="541.68" x2="377.29" y2="546.61" stroke="#333" stroke-width="0.8"/>
<line x1="375.09" y1="541.68" x2="379.49" y2="541.68" stroke="#333" stroke-width="0.8"/>
<line x1="375.09" y1="546.61" x2="379.49" y2="546.61" stroke="#333" stroke-width="0.8"/>
<line x1="443.18" y1="541.19" x2="443.18" y2="549.08" stroke="#333" stroke-width="0.8"/>
<line x1="440.98" y1="541.19" x2="445.38" y2="541.19" stroke="#333" stroke-width="0.8"/>
<line x1="440.98" y1="549.08" x2="445.38" y2="549.08" stroke="#333" stroke-width="0.8"/>
<line x1="509.06" y1="544.15" x2="509.06" y2="550.07" stroke="#333" stroke-width="0.8"/>
<line x1="506.86" y1="544.15" x2="511.26" y2="544.15" stroke="#333" stroke-width="0.8"/>
<line x1="506.86" y1="550.07" x2="511.26" y2="550.07" stroke="#333" stroke-width="0.8"/>
<path d="M309.25,603.37L313.55,603.37L311.4,599.61Z" fill="#fff" stroke="#333" stroke-width="0.9"/>
<path d="M317.48,602.39L321.79,602.39L319.64,598.62Z" fill="#fff" stroke="#333" stroke-width="0.9"/>
<path d="M325.72,594.39L330.02,594.39L327.87,590.63Z" fill="#fff" stroke="#333" stroke-width="0.9"/>
<path d="M342.19,573.92L346.5,573.92L344.34,570.15Z" fill="#fff" stroke="#333" stroke-width="0.9"/>
<path d="M375.14,545.65L379.44,545.65L377.29,541.89Z" fill="#fff" stroke="#333" stroke-width="0.9"/>
<path d="M441.02,546.64L445.33,546.64L443.18,542.87Z" fill="#fff" stroke="#333" stroke-width="0.9"/>
<path d="M506.91,548.61L511.22,548.61L509.06,544.85Z" fill="#fff" stroke="#333" stroke-width="0.9"/>
<path d="M344.34,584.5L344.99,585.61L346.25,585.88L345.39,586.84L345.52,588.12L344.34,587.6L343.17,588.12L343.3,586.84L342.44,585.88L343.7,585.61Z" fill="#111" stroke="#111" stroke-width="0.5"/>
<path d="M375.09,581L375.73,582.11L376.99,582.38L376.13,583.34L376.26,584.62L375.09,584.1L373.91,584.62L374.04,583.34L373.19,582.38L374.44,582.11Z" fill="#111" stroke="#111" stroke-width="0.5"/>
<path d="M379.49,581L380.13,582.11L381.39,582.38L380.53,583.34L380.66,584.62L379.49,584.1L378.31,584.62L378.44,583.34L377.59,582.38L378.84,582.11Z" fill="#111" stroke="#111" stroke-width="0.5"/>
<path d="M440.98,583.3L441.62,584.41L442.88,584.68L442.02,585.64L442.15,586.92L440.98,586.4L439.8,586.92L439.93,585.64L439.07,584.68L440.33,584.41Z" fill="#111" stroke="#111" stroke-width="0.5"/>
<path d="M445.38,583.3L446.02,584.41L447.28,584.68L446.42,585.64L446.55,586.92L445.38,586.4L444.2,586.92L444.33,585.64L443.47,584.68L444.73,584.41Z" fill="#111" stroke="#111" stroke-width="0.5"/>
<path d="M509.06,587.5L509.71,588.61L510.97,588.88L510.11,589.84L510.24,591.12L509.06,590.6L507.89,591.12L508.02,589.84L507.16,588.88L508.42,588.61Z" fill="#111" stroke="#111" stroke-width="0.5"/>
<line x1="316.3" y1="467" x2="334.3" y2="467" stroke="#333" stroke-width="0.9"/>
<circle cx="325.8" cy="467" r="2.05" fill="#000" stroke="#000" stroke-width="0.9"/>
<text x="339.3" y="470.1" class="lg" font-size="8.8" textLength="20.01" lengthAdjust="spacingAndGlyphs">HL5B</text>
<line x1="316.3" y1="477" x2="334.3" y2="477" stroke="#777" stroke-width="0.9" stroke-dasharray="2.6,1.9"/>
<circle cx="325.8" cy="477" r="2.05" fill="#fff" stroke="#333" stroke-width="0.9"/>
<text x="339.3" y="480.1" class="lg" font-size="8.8" textLength="50.02" lengthAdjust="spacingAndGlyphs">HL5B+RNAse</text>
<line x1="316.3" y1="487" x2="334.3" y2="487" stroke="#333" stroke-width="0.9"/>
<path d="M323.65,485.49L327.95,485.49L325.8,489.26Z" fill="#000" stroke="#000" stroke-width="0.9"/>
<text x="339.3" y="490.1" class="lg" font-size="8.8" textLength="43.81" lengthAdjust="spacingAndGlyphs">HL5B+R848</text>
<line x1="316.3" y1="497" x2="334.3" y2="497" stroke="#777" stroke-width="0.9" stroke-dasharray="2.6,1.9"/>
<path d="M323.65,498.51L327.95,498.51L325.8,494.74Z" fill="#fff" stroke="#333" stroke-width="0.9"/>
<text x="339.3" y="500.1" class="lg" font-size="8.8" textLength="72.93" lengthAdjust="spacingAndGlyphs">HL5B+R848+RNase</text>
</g>
</svg>
</body></html>
